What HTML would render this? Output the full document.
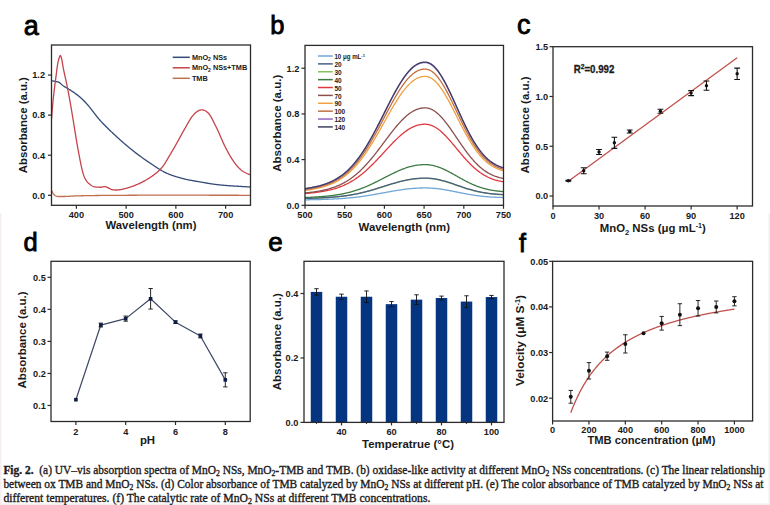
<!DOCTYPE html>
<html><head><meta charset="utf-8"><style>
html,body{margin:0;padding:0;background:#fff;}
body{width:770px;height:505px;overflow:hidden;}
svg{display:block;}
</style></head><body>
<svg width="770" height="505" viewBox="0 0 770 505">
<rect width="770" height="505" fill="#fff"/>
<rect x="0" y="213" width="1.5" height="292" fill="#f6eef0"/>
<rect x="768.5" y="213" width="1.5" height="292" fill="#f3eef0"/>
<rect x="0" y="503.5" width="770" height="1.5" fill="#f4eced"/>
<text x="23.8" y="35.2" font-family="'Liberation Sans', sans-serif" font-size="27" font-weight="normal" text-anchor="start" fill="#000" stroke="#000" stroke-width="0.85">a</text>
<path d="M51.5,190.27 L52,191.33 L52.49,192.39 L52.99,193.28 L53.49,193.97 L53.99,194.57 L54.48,195.06 L54.98,195.46 L55.48,195.78 L55.98,196.03 L56.48,196.22 L56.97,196.35 L57.47,196.44 L57.97,196.5 L58.47,196.52 L58.96,196.53 L59.46,196.52 L59.96,196.5 L60.45,196.48 L60.95,196.47 L61.45,196.48 L61.95,196.5 L62.45,196.51 L62.94,196.52 L63.44,196.52 L63.94,196.51 L64.44,196.51 L64.93,196.5 L65.43,196.48 L65.93,196.46 L66.42,196.44 L66.92,196.42 L67.42,196.39 L67.92,196.36 L68.42,196.33 L68.91,196.3 L69.41,196.27 L69.91,196.24 L70.41,196.21 L70.9,196.17 L71.4,196.14 L71.9,196.11 L72.39,196.07 L72.89,196.04 L73.39,196.01 L73.89,195.99 L74.39,195.96 L74.88,195.94 L75.38,195.92 L75.88,195.9 L76.38,195.88 L76.87,195.87 L77.37,195.86 L77.87,195.84 L78.37,195.83 L78.86,195.82 L79.36,195.81 L79.86,195.8 L80.35,195.79 L80.85,195.77 L81.35,195.76 L81.85,195.75 L82.34,195.74 L82.84,195.73 L83.34,195.72 L83.84,195.71 L84.34,195.7 L84.83,195.69 L85.33,195.68 L85.83,195.67 L86.32,195.66 L86.82,195.65 L87.32,195.64 L87.82,195.64 L88.31,195.63 L88.81,195.62 L89.31,195.61 L89.81,195.6 L90.31,195.6 L90.8,195.59 L91.3,195.58 L91.8,195.57 L92.29,195.57 L92.79,195.56 L93.29,195.55 L93.79,195.54 L94.28,195.54 L94.78,195.53 L95.28,195.52 L95.78,195.52 L96.28,195.51 L96.77,195.51 L97.27,195.5 L97.77,195.49 L98.27,195.49 L98.76,195.48 L99.26,195.48 L99.76,195.47 L100.25,195.47 L100.75,195.46 L101.25,195.46 L101.75,195.45 L102.25,195.45 L102.74,195.44 L103.24,195.44 L103.74,195.43 L104.23,195.43 L104.73,195.42 L105.23,195.42 L105.73,195.42 L106.22,195.41 L106.72,195.41 L107.22,195.4 L107.72,195.4 L108.22,195.4 L108.71,195.39 L109.21,195.39 L109.71,195.38 L110.2,195.38 L110.7,195.38 L111.2,195.37 L111.7,195.37 L112.19,195.37 L112.69,195.36 L113.19,195.36 L113.69,195.36 L114.19,195.35 L114.68,195.35 L115.18,195.35 L115.68,195.34 L116.17,195.34 L116.67,195.34 L117.17,195.33 L117.67,195.33 L118.17,195.33 L118.66,195.33 L119.16,195.32 L119.66,195.32 L120.16,195.32 L120.65,195.31 L121.15,195.31 L121.65,195.31 L122.14,195.3 L122.64,195.3 L123.14,195.3 L123.64,195.3 L124.14,195.29 L124.63,195.29 L125.13,195.29 L125.63,195.28 L126.12,195.28 L126.62,195.28 L127.12,195.28 L127.62,195.27 L128.12,195.27 L128.61,195.27 L129.11,195.26 L129.61,195.26 L130.11,195.26 L130.6,195.26 L131.1,195.25 L131.6,195.25 L132.09,195.25 L132.59,195.25 L133.09,195.24 L133.59,195.24 L134.08,195.24 L134.58,195.24 L135.08,195.23 L135.58,195.23 L136.07,195.23 L136.57,195.23 L137.07,195.23 L137.57,195.22 L138.06,195.22 L138.56,195.22 L139.06,195.22 L139.56,195.22 L140.06,195.21 L140.55,195.21 L141.05,195.21 L141.55,195.21 L142.05,195.21 L142.54,195.21 L143.04,195.2 L143.54,195.2 L144.04,195.2 L144.53,195.2 L145.03,195.2 L145.53,195.2 L146.02,195.2 L146.52,195.2 L147.02,195.19 L147.52,195.19 L148.01,195.19 L148.51,195.19 L149.01,195.19 L149.51,195.19 L150,195.19 L150.5,195.19 L151,195.19 L151.5,195.18 L152,195.18 L152.49,195.18 L152.99,195.18 L153.49,195.18 L153.99,195.18 L154.48,195.18 L154.98,195.18 L155.48,195.18 L155.98,195.18 L156.47,195.18 L156.97,195.18 L157.47,195.18 L157.97,195.17 L158.46,195.17 L158.96,195.17 L159.46,195.17 L159.96,195.17 L160.45,195.17 L160.95,195.17 L161.45,195.17 L161.94,195.17 L162.44,195.17 L162.94,195.17 L163.44,195.17 L163.94,195.17 L164.43,195.17 L164.93,195.17 L165.43,195.17 L165.93,195.17 L166.42,195.17 L166.92,195.17 L167.42,195.17 L167.91,195.17 L168.41,195.17 L168.91,195.17 L169.41,195.17 L169.91,195.17 L170.4,195.17 L170.9,195.17 L171.4,195.17 L171.89,195.17 L172.39,195.17 L172.89,195.17 L173.39,195.17 L173.88,195.17 L174.38,195.17 L174.88,195.17 L175.38,195.17 L175.88,195.17 L176.37,195.17 L176.87,195.17 L177.37,195.17 L177.87,195.17 L178.36,195.18 L178.86,195.18 L179.36,195.18 L179.85,195.18 L180.35,195.18 L180.85,195.18 L181.35,195.18 L181.84,195.18 L182.34,195.18 L182.84,195.18 L183.34,195.18 L183.84,195.18 L184.33,195.18 L184.83,195.18 L185.33,195.18 L185.83,195.18 L186.32,195.18 L186.82,195.19 L187.32,195.19 L187.81,195.19 L188.31,195.19 L188.81,195.19 L189.31,195.19 L189.8,195.19 L190.3,195.19 L190.8,195.19 L191.3,195.19 L191.79,195.19 L192.29,195.19 L192.79,195.19 L193.29,195.2 L193.78,195.2 L194.28,195.2 L194.78,195.2 L195.28,195.2 L195.78,195.2 L196.27,195.2 L196.77,195.2 L197.27,195.2 L197.76,195.2 L198.26,195.2 L198.76,195.21 L199.26,195.21 L199.75,195.21 L200.25,195.21 L200.75,195.21 L201.25,195.21 L201.75,195.21 L202.24,195.21 L202.74,195.21 L203.24,195.21 L203.74,195.21 L204.23,195.22 L204.73,195.22 L205.23,195.22 L205.72,195.22 L206.22,195.22 L206.72,195.22 L207.22,195.22 L207.72,195.22 L208.21,195.22 L208.71,195.22 L209.21,195.23 L209.71,195.23 L210.2,195.23 L210.7,195.23 L211.2,195.23 L211.7,195.23 L212.19,195.23 L212.69,195.23 L213.19,195.23 L213.69,195.23 L214.18,195.24 L214.68,195.24 L215.18,195.24 L215.67,195.24 L216.17,195.24 L216.67,195.24 L217.17,195.24 L217.66,195.24 L218.16,195.24 L218.66,195.24 L219.16,195.25 L219.66,195.25 L220.15,195.25 L220.65,195.25 L221.15,195.25 L221.65,195.25 L222.14,195.25 L222.64,195.25 L223.14,195.25 L223.63,195.25 L224.13,195.25 L224.63,195.26 L225.13,195.26 L225.62,195.26 L226.12,195.26 L226.62,195.26 L227.12,195.26 L227.62,195.26 L228.11,195.26 L228.61,195.26 L229.11,195.26 L229.6,195.26 L230.1,195.26 L230.6,195.27 L231.1,195.27 L231.59,195.27 L232.09,195.27 L232.59,195.27 L233.09,195.27 L233.59,195.27 L234.08,195.27 L234.58,195.27 L235.08,195.27 L235.58,195.27 L236.07,195.27 L236.57,195.27 L237.07,195.27 L237.56,195.27 L238.06,195.27 L238.56,195.27 L239.06,195.28 L239.55,195.28 L240.05,195.28 L240.55,195.28 L241.05,195.28 L241.54,195.28 L242.04,195.28 L242.54,195.28 L243.04,195.28 L243.53,195.28 L244.03,195.28 L244.53,195.28 L245.03,195.28 L245.53,195.28 L246.02,195.28 L246.52,195.28 L247.02,195.28 L247.51,195.28 L248.01,195.28 L248.51,195.28 L249.01,195.28 L249.5,195.28 L250,195.28 L250.5,195.28" fill="none" stroke="#c0704f" stroke-width="1.3" stroke-linejoin="round" />
<path d="M51.5,80.67 L52,80.77 L52.49,80.86 L52.99,80.96 L53.49,81.05 L53.99,81.15 L54.48,81.25 L54.98,81.36 L55.48,81.47 L55.98,81.57 L56.48,81.66 L56.97,81.74 L57.47,81.83 L57.97,81.95 L58.47,82.1 L58.96,82.31 L59.46,82.59 L59.96,82.97 L60.45,83.42 L60.95,83.9 L61.45,84.39 L61.95,84.84 L62.45,85.22 L62.94,85.58 L63.44,85.93 L63.94,86.26 L64.44,86.58 L64.93,86.89 L65.43,87.2 L65.93,87.5 L66.42,87.79 L66.92,88.08 L67.42,88.37 L67.92,88.66 L68.42,88.94 L68.91,89.24 L69.41,89.53 L69.91,89.83 L70.41,90.14 L70.9,90.46 L71.4,90.78 L71.9,91.12 L72.39,91.46 L72.89,91.8 L73.39,92.14 L73.89,92.48 L74.39,92.83 L74.88,93.18 L75.38,93.53 L75.88,93.89 L76.38,94.25 L76.87,94.62 L77.37,95 L77.87,95.38 L78.37,95.77 L78.86,96.18 L79.36,96.59 L79.86,97.01 L80.35,97.45 L80.85,97.89 L81.35,98.34 L81.85,98.8 L82.34,99.27 L82.84,99.75 L83.34,100.23 L83.84,100.73 L84.34,101.24 L84.83,101.75 L85.33,102.27 L85.83,102.8 L86.32,103.34 L86.82,103.89 L87.32,104.45 L87.82,105.02 L88.31,105.6 L88.81,106.19 L89.31,106.8 L89.81,107.41 L90.31,108.04 L90.8,108.66 L91.3,109.3 L91.8,109.94 L92.29,110.58 L92.79,111.23 L93.29,111.88 L93.79,112.53 L94.28,113.18 L94.78,113.82 L95.28,114.47 L95.78,115.11 L96.28,115.75 L96.77,116.38 L97.27,117 L97.77,117.62 L98.27,118.22 L98.76,118.82 L99.26,119.41 L99.76,119.98 L100.25,120.54 L100.75,121.09 L101.25,121.64 L101.75,122.18 L102.25,122.71 L102.74,123.24 L103.24,123.77 L103.74,124.29 L104.23,124.8 L104.73,125.31 L105.23,125.82 L105.73,126.32 L106.22,126.82 L106.72,127.32 L107.22,127.81 L107.72,128.3 L108.22,128.78 L108.71,129.27 L109.21,129.75 L109.71,130.22 L110.2,130.7 L110.7,131.17 L111.2,131.64 L111.7,132.11 L112.19,132.57 L112.69,133.04 L113.19,133.5 L113.69,133.96 L114.19,134.42 L114.68,134.88 L115.18,135.34 L115.68,135.8 L116.17,136.26 L116.67,136.72 L117.17,137.17 L117.67,137.63 L118.17,138.08 L118.66,138.54 L119.16,138.99 L119.66,139.43 L120.16,139.88 L120.65,140.33 L121.15,140.77 L121.65,141.21 L122.14,141.65 L122.64,142.08 L123.14,142.52 L123.64,142.95 L124.14,143.38 L124.63,143.81 L125.13,144.24 L125.63,144.66 L126.12,145.09 L126.62,145.51 L127.12,145.93 L127.62,146.35 L128.12,146.76 L128.61,147.17 L129.11,147.59 L129.61,147.99 L130.11,148.4 L130.6,148.81 L131.1,149.21 L131.6,149.61 L132.09,150.01 L132.59,150.41 L133.09,150.81 L133.59,151.2 L134.08,151.59 L134.58,151.98 L135.08,152.37 L135.58,152.75 L136.07,153.13 L136.57,153.51 L137.07,153.89 L137.57,154.27 L138.06,154.64 L138.56,155.01 L139.06,155.38 L139.56,155.75 L140.06,156.11 L140.55,156.48 L141.05,156.84 L141.55,157.2 L142.05,157.55 L142.54,157.91 L143.04,158.26 L143.54,158.62 L144.04,158.97 L144.53,159.32 L145.03,159.66 L145.53,160.01 L146.02,160.35 L146.52,160.7 L147.02,161.04 L147.52,161.38 L148.01,161.71 L148.51,162.05 L149.01,162.39 L149.51,162.72 L150,163.05 L150.5,163.39 L151,163.72 L151.5,164.06 L152,164.39 L152.49,164.73 L152.99,165.06 L153.49,165.4 L153.99,165.73 L154.48,166.06 L154.98,166.39 L155.48,166.72 L155.98,167.05 L156.47,167.37 L156.97,167.7 L157.47,168.02 L157.97,168.33 L158.46,168.65 L158.96,168.96 L159.46,169.27 L159.96,169.57 L160.45,169.87 L160.95,170.17 L161.45,170.46 L161.94,170.74 L162.44,171.03 L162.94,171.3 L163.44,171.57 L163.94,171.84 L164.43,172.1 L164.93,172.35 L165.43,172.6 L165.93,172.84 L166.42,173.07 L166.92,173.3 L167.42,173.52 L167.91,173.74 L168.41,173.95 L168.91,174.16 L169.41,174.36 L169.91,174.56 L170.4,174.75 L170.9,174.94 L171.4,175.12 L171.89,175.3 L172.39,175.48 L172.89,175.65 L173.39,175.81 L173.88,175.98 L174.38,176.14 L174.88,176.3 L175.38,176.45 L175.88,176.6 L176.37,176.75 L176.87,176.9 L177.37,177.05 L177.87,177.19 L178.36,177.33 L178.86,177.47 L179.36,177.61 L179.85,177.75 L180.35,177.88 L180.85,178.02 L181.35,178.15 L181.84,178.28 L182.34,178.42 L182.84,178.55 L183.34,178.68 L183.84,178.81 L184.33,178.93 L184.83,179.05 L185.33,179.17 L185.83,179.28 L186.32,179.4 L186.82,179.51 L187.32,179.61 L187.81,179.72 L188.31,179.82 L188.81,179.92 L189.31,180.02 L189.8,180.11 L190.3,180.21 L190.8,180.3 L191.3,180.39 L191.79,180.48 L192.29,180.57 L192.79,180.66 L193.29,180.74 L193.78,180.83 L194.28,180.92 L194.78,181 L195.28,181.09 L195.78,181.17 L196.27,181.25 L196.77,181.34 L197.27,181.42 L197.76,181.51 L198.26,181.59 L198.76,181.68 L199.26,181.77 L199.75,181.86 L200.25,181.94 L200.75,182.03 L201.25,182.12 L201.75,182.21 L202.24,182.3 L202.74,182.39 L203.24,182.48 L203.74,182.56 L204.23,182.65 L204.73,182.74 L205.23,182.83 L205.72,182.91 L206.22,183 L206.72,183.09 L207.22,183.17 L207.72,183.25 L208.21,183.34 L208.71,183.42 L209.21,183.5 L209.71,183.58 L210.2,183.66 L210.7,183.74 L211.2,183.81 L211.7,183.89 L212.19,183.96 L212.69,184.04 L213.19,184.11 L213.69,184.18 L214.18,184.25 L214.68,184.31 L215.18,184.38 L215.67,184.44 L216.17,184.5 L216.67,184.56 L217.17,184.62 L217.66,184.68 L218.16,184.73 L218.66,184.78 L219.16,184.84 L219.66,184.89 L220.15,184.94 L220.65,184.99 L221.15,185.04 L221.65,185.08 L222.14,185.13 L222.64,185.18 L223.14,185.22 L223.63,185.27 L224.13,185.31 L224.63,185.35 L225.13,185.39 L225.62,185.43 L226.12,185.47 L226.62,185.51 L227.12,185.55 L227.62,185.59 L228.11,185.62 L228.61,185.66 L229.11,185.7 L229.6,185.73 L230.1,185.77 L230.6,185.8 L231.1,185.83 L231.59,185.87 L232.09,185.9 L232.59,185.93 L233.09,185.96 L233.59,186 L234.08,186.03 L234.58,186.06 L235.08,186.09 L235.58,186.12 L236.07,186.15 L236.57,186.18 L237.07,186.21 L237.56,186.24 L238.06,186.27 L238.56,186.3 L239.06,186.33 L239.55,186.36 L240.05,186.39 L240.55,186.42 L241.05,186.45 L241.54,186.48 L242.04,186.51 L242.54,186.54 L243.04,186.57 L243.53,186.6 L244.03,186.63 L244.53,186.66 L245.03,186.69 L245.53,186.72 L246.02,186.76 L246.52,186.79 L247.02,186.82 L247.51,186.86 L248.01,186.89 L248.51,186.92 L249.01,186.96 L249.5,186.99 L250,187.03 L250.5,187.07" fill="none" stroke="#344a78" stroke-width="1.3" stroke-linejoin="round" />
<path d="M51.5,119.14 L52,112.96 L52.49,106.89 L52.99,101.53 L53.49,96.75 L53.99,92.32 L54.48,88.08 L54.98,84.07 L55.48,80.32 L55.98,76.63 L56.48,72.76 L56.97,68.64 L57.47,65.04 L57.97,62.36 L58.47,60.25 L58.96,58.53 L59.46,57 L59.96,55.86 L60.45,55.52 L60.95,56.32 L61.45,58 L61.95,60.21 L62.45,63.08 L62.94,66.18 L63.44,68.96 L63.94,71.41 L64.44,73.74 L64.93,75.97 L65.43,78.17 L65.93,80.39 L66.42,82.67 L66.92,85.07 L67.42,87.57 L67.92,90.12 L68.42,92.71 L68.91,95.35 L69.41,98.04 L69.91,100.77 L70.41,103.55 L70.9,106.39 L71.4,109.3 L71.9,112.27 L72.39,115.3 L72.89,118.37 L73.39,121.46 L73.89,124.57 L74.39,127.68 L74.88,130.78 L75.38,133.86 L75.88,136.91 L76.38,139.9 L76.87,142.85 L77.37,145.72 L77.87,148.51 L78.37,151.2 L78.86,153.85 L79.36,156.49 L79.86,159.1 L80.35,161.65 L80.85,164.12 L81.35,166.47 L81.85,168.69 L82.34,170.74 L82.84,172.6 L83.34,174.24 L83.84,175.68 L84.34,176.95 L84.83,178.07 L85.33,179.06 L85.83,179.93 L86.32,180.69 L86.82,181.35 L87.32,181.94 L87.82,182.47 L88.31,182.95 L88.81,183.39 L89.31,183.82 L89.81,184.23 L90.31,184.66 L90.8,185.07 L91.3,185.44 L91.8,185.75 L92.29,186.03 L92.79,186.27 L93.29,186.47 L93.79,186.63 L94.28,186.77 L94.78,186.88 L95.28,186.97 L95.78,187.04 L96.28,187.09 L96.77,187.12 L97.27,187.15 L97.77,187.17 L98.27,187.19 L98.76,187.2 L99.26,187.22 L99.76,187.24 L100.25,187.27 L100.75,187.27 L101.25,187.22 L101.75,187.14 L102.25,187.03 L102.74,186.91 L103.24,186.8 L103.74,186.7 L104.23,186.64 L104.73,186.62 L105.23,186.67 L105.73,186.77 L106.22,186.92 L106.72,187.12 L107.22,187.34 L107.72,187.6 L108.22,187.86 L108.71,188.14 L109.21,188.42 L109.71,188.69 L110.2,188.95 L110.7,189.18 L111.2,189.39 L111.7,189.55 L112.19,189.67 L112.69,189.76 L113.19,189.83 L113.69,189.89 L114.19,189.94 L114.68,189.97 L115.18,190 L115.68,190.01 L116.17,190.01 L116.67,190 L117.17,189.98 L117.67,189.95 L118.17,189.92 L118.66,189.87 L119.16,189.81 L119.66,189.75 L120.16,189.68 L120.65,189.59 L121.15,189.51 L121.65,189.41 L122.14,189.31 L122.64,189.2 L123.14,189.09 L123.64,188.97 L124.14,188.85 L124.63,188.72 L125.13,188.59 L125.63,188.46 L126.12,188.32 L126.62,188.18 L127.12,188.04 L127.62,187.9 L128.12,187.75 L128.61,187.6 L129.11,187.44 L129.61,187.28 L130.11,187.12 L130.6,186.96 L131.1,186.79 L131.6,186.62 L132.09,186.44 L132.59,186.27 L133.09,186.08 L133.59,185.9 L134.08,185.71 L134.58,185.52 L135.08,185.32 L135.58,185.12 L136.07,184.92 L136.57,184.71 L137.07,184.5 L137.57,184.28 L138.06,184.06 L138.56,183.84 L139.06,183.61 L139.56,183.38 L140.06,183.14 L140.55,182.9 L141.05,182.66 L141.55,182.41 L142.05,182.16 L142.54,181.9 L143.04,181.64 L143.54,181.38 L144.04,181.11 L144.53,180.84 L145.03,180.56 L145.53,180.28 L146.02,179.99 L146.52,179.7 L147.02,179.4 L147.52,179.1 L148.01,178.79 L148.51,178.48 L149.01,178.17 L149.51,177.85 L150,177.53 L150.5,177.2 L151,176.87 L151.5,176.53 L152,176.2 L152.49,175.85 L152.99,175.5 L153.49,175.14 L153.99,174.78 L154.48,174.41 L154.98,174.02 L155.48,173.63 L155.98,173.23 L156.47,172.82 L156.97,172.4 L157.47,171.97 L157.97,171.52 L158.46,171.06 L158.96,170.59 L159.46,170.1 L159.96,169.6 L160.45,169.08 L160.95,168.54 L161.45,167.99 L161.94,167.42 L162.44,166.83 L162.94,166.23 L163.44,165.59 L163.94,164.9 L164.43,164.17 L164.93,163.4 L165.43,162.6 L165.93,161.78 L166.42,160.94 L166.92,160.09 L167.42,159.22 L167.91,158.36 L168.41,157.5 L168.91,156.65 L169.41,155.81 L169.91,154.98 L170.4,154.14 L170.9,153.3 L171.4,152.46 L171.89,151.61 L172.39,150.77 L172.89,149.91 L173.39,149.06 L173.88,148.2 L174.38,147.34 L174.88,146.47 L175.38,145.6 L175.88,144.73 L176.37,143.86 L176.87,142.98 L177.37,142.11 L177.87,141.22 L178.36,140.32 L178.86,139.42 L179.36,138.51 L179.85,137.59 L180.35,136.67 L180.85,135.75 L181.35,134.83 L181.84,133.92 L182.34,133 L182.84,132.1 L183.34,131.2 L183.84,130.31 L184.33,129.43 L184.83,128.57 L185.33,127.72 L185.83,126.86 L186.32,125.99 L186.82,125.11 L187.32,124.24 L187.81,123.36 L188.31,122.5 L188.81,121.64 L189.31,120.8 L189.8,119.98 L190.3,119.18 L190.8,118.41 L191.3,117.67 L191.79,116.97 L192.29,116.3 L192.79,115.68 L193.29,115.11 L193.78,114.56 L194.28,114.03 L194.78,113.53 L195.28,113.05 L195.78,112.6 L196.27,112.18 L196.77,111.79 L197.27,111.43 L197.76,111.1 L198.26,110.81 L198.76,110.56 L199.26,110.34 L199.75,110.17 L200.25,110.04 L200.75,109.95 L201.25,109.9 L201.75,109.88 L202.24,109.9 L202.74,109.95 L203.24,110.04 L203.74,110.16 L204.23,110.32 L204.73,110.52 L205.23,110.76 L205.72,111.04 L206.22,111.36 L206.72,111.72 L207.22,112.13 L207.72,112.58 L208.21,113.07 L208.71,113.61 L209.21,114.21 L209.71,114.87 L210.2,115.6 L210.7,116.38 L211.2,117.21 L211.7,118.08 L212.19,119 L212.69,119.94 L213.19,120.92 L213.69,121.92 L214.18,122.93 L214.68,123.96 L215.18,124.99 L215.67,126.02 L216.17,127.04 L216.67,128.06 L217.17,129.08 L217.66,130.14 L218.16,131.22 L218.66,132.33 L219.16,133.45 L219.66,134.6 L220.15,135.74 L220.65,136.9 L221.15,138.05 L221.65,139.2 L222.14,140.33 L222.64,141.46 L223.14,142.56 L223.63,143.63 L224.13,144.68 L224.63,145.69 L225.13,146.68 L225.62,147.67 L226.12,148.64 L226.62,149.61 L227.12,150.56 L227.62,151.5 L228.11,152.42 L228.61,153.33 L229.11,154.23 L229.6,155.11 L230.1,155.97 L230.6,156.81 L231.1,157.63 L231.59,158.43 L232.09,159.21 L232.59,159.96 L233.09,160.7 L233.59,161.42 L234.08,162.12 L234.58,162.8 L235.08,163.46 L235.58,164.11 L236.07,164.74 L236.57,165.34 L237.07,165.93 L237.56,166.5 L238.06,167.05 L238.56,167.58 L239.06,168.1 L239.55,168.59 L240.05,169.06 L240.55,169.51 L241.05,169.94 L241.54,170.33 L242.04,170.71 L242.54,171.06 L243.04,171.39 L243.53,171.7 L244.03,171.99 L244.53,172.27 L245.03,172.53 L245.53,172.79 L246.02,173.03 L246.52,173.27 L247.02,173.5 L247.51,173.73 L248.01,173.95 L248.51,174.17 L249.01,174.33 L249.5,174.47 L250,174.6 L250.5,174.74" fill="none" stroke="#c5434a" stroke-width="1.3" stroke-linejoin="round" />
<rect x="51.5" y="45" width="199" height="160.3" fill="none" stroke="#2b2b2b" stroke-width="1.3"/>
<line x1="76.38" y1="205.3" x2="76.38" y2="208.8" stroke="#2b2b2b" stroke-width="1.2"/>
<text x="76.38" y="218.2" font-family="'Liberation Sans', sans-serif" font-size="9.2" font-weight="bold" text-anchor="middle" fill="#1a1a1a" >400</text>
<line x1="126.12" y1="205.3" x2="126.12" y2="208.8" stroke="#2b2b2b" stroke-width="1.2"/>
<text x="126.12" y="218.2" font-family="'Liberation Sans', sans-serif" font-size="9.2" font-weight="bold" text-anchor="middle" fill="#1a1a1a" >500</text>
<line x1="175.88" y1="205.3" x2="175.88" y2="208.8" stroke="#2b2b2b" stroke-width="1.2"/>
<text x="175.88" y="218.2" font-family="'Liberation Sans', sans-serif" font-size="9.2" font-weight="bold" text-anchor="middle" fill="#1a1a1a" >600</text>
<line x1="225.62" y1="205.3" x2="225.62" y2="208.8" stroke="#2b2b2b" stroke-width="1.2"/>
<text x="225.62" y="218.2" font-family="'Liberation Sans', sans-serif" font-size="9.2" font-weight="bold" text-anchor="middle" fill="#1a1a1a" >700</text>
<line x1="48" y1="195.28" x2="51.5" y2="195.28" stroke="#2b2b2b" stroke-width="1.2"/>
<text x="45" y="198.59" font-family="'Liberation Sans', sans-serif" font-size="9.2" font-weight="bold" text-anchor="end" fill="#1a1a1a" >0.0</text>
<line x1="48" y1="155.21" x2="51.5" y2="155.21" stroke="#2b2b2b" stroke-width="1.2"/>
<text x="45" y="158.52" font-family="'Liberation Sans', sans-serif" font-size="9.2" font-weight="bold" text-anchor="end" fill="#1a1a1a" >0.4</text>
<line x1="48" y1="115.13" x2="51.5" y2="115.13" stroke="#2b2b2b" stroke-width="1.2"/>
<text x="45" y="118.44" font-family="'Liberation Sans', sans-serif" font-size="9.2" font-weight="bold" text-anchor="end" fill="#1a1a1a" >0.8</text>
<line x1="48" y1="75.06" x2="51.5" y2="75.06" stroke="#2b2b2b" stroke-width="1.2"/>
<text x="45" y="78.37" font-family="'Liberation Sans', sans-serif" font-size="9.2" font-weight="bold" text-anchor="end" fill="#1a1a1a" >1.2</text>
<text x="151" y="228.8" font-family="'Liberation Sans', sans-serif" font-size="11.4" font-weight="bold" text-anchor="middle" fill="#1a1a1a" textLength="91" lengthAdjust="spacingAndGlyphs" >Wavelength (nm)</text>
<text transform="translate(27,125.2) rotate(-90)" x="0" y="0" font-family="'Liberation Sans', sans-serif" font-size="11.4" font-weight="bold" text-anchor="middle" fill="#1a1a1a" textLength="96" lengthAdjust="spacingAndGlyphs">Absorbance (a.u.)</text>
<line x1="172.7" y1="57.3" x2="189.8" y2="57.3" stroke="#344a78" stroke-width="1.5"/>
<text x="191.9" y="59.9" font-family="'Liberation Sans', sans-serif" font-size="7.3" font-weight="bold" text-anchor="start" fill="#1a1a1a" >MnO<tspan font-size="5" dy="1.5">2</tspan><tspan dy="-1.5"> NSs</tspan></text>
<line x1="172.7" y1="67.8" x2="189.8" y2="67.8" stroke="#c5434a" stroke-width="1.5"/>
<text x="191.9" y="70.4" font-family="'Liberation Sans', sans-serif" font-size="7.3" font-weight="bold" text-anchor="start" fill="#1a1a1a" >MnO<tspan font-size="5" dy="1.5">2</tspan><tspan dy="-1.5"> NSs+TMB</tspan></text>
<line x1="172.7" y1="78.3" x2="189.8" y2="78.3" stroke="#c0704f" stroke-width="1.5"/>
<text x="191.9" y="80.9" font-family="'Liberation Sans', sans-serif" font-size="7.3" font-weight="bold" text-anchor="start" fill="#1a1a1a" >TMB</text>
<text x="270.3" y="34.3" font-family="'Liberation Sans', sans-serif" font-size="25.5" font-weight="normal" text-anchor="start" fill="#000" stroke="#000" stroke-width="0.85">b</text>
<path d="M305,199.82 L305.79,199.81 L306.59,199.79 L307.38,199.78 L308.18,199.77 L308.97,199.75 L309.76,199.74 L310.56,199.72 L311.35,199.71 L312.15,199.69 L312.94,199.68 L313.73,199.66 L314.53,199.64 L315.32,199.63 L316.12,199.61 L316.91,199.59 L317.7,199.57 L318.5,199.55 L319.29,199.53 L320.09,199.51 L320.88,199.49 L321.67,199.47 L322.47,199.44 L323.26,199.42 L324.06,199.39 L324.85,199.37 L325.64,199.34 L326.44,199.31 L327.23,199.28 L328.03,199.25 L328.82,199.22 L329.61,199.19 L330.41,199.16 L331.2,199.12 L332,199.09 L332.79,199.05 L333.58,199.01 L334.38,198.97 L335.17,198.93 L335.97,198.89 L336.76,198.84 L337.55,198.8 L338.35,198.75 L339.14,198.7 L339.94,198.65 L340.73,198.6 L341.52,198.54 L342.32,198.49 L343.11,198.43 L343.91,198.37 L344.7,198.31 L345.49,198.24 L346.29,198.18 L347.08,198.11 L347.88,198.04 L348.67,197.97 L349.46,197.9 L350.26,197.82 L351.05,197.74 L351.85,197.66 L352.64,197.58 L353.43,197.5 L354.23,197.41 L355.02,197.32 L355.82,197.23 L356.61,197.14 L357.4,197.04 L358.2,196.94 L358.99,196.84 L359.79,196.74 L360.58,196.63 L361.37,196.53 L362.17,196.42 L362.96,196.31 L363.76,196.19 L364.55,196.08 L365.34,195.96 L366.14,195.84 L366.93,195.72 L367.73,195.6 L368.52,195.47 L369.31,195.34 L370.11,195.21 L370.9,195.08 L371.7,194.95 L372.49,194.82 L373.28,194.68 L374.08,194.54 L374.87,194.4 L375.67,194.26 L376.46,194.12 L377.25,193.98 L378.05,193.84 L378.84,193.69 L379.64,193.55 L380.43,193.4 L381.22,193.26 L382.02,193.11 L382.81,192.96 L383.61,192.82 L384.4,192.67 L385.19,192.52 L385.99,192.38 L386.78,192.23 L387.58,192.08 L388.37,191.94 L389.16,191.79 L389.96,191.65 L390.75,191.5 L391.55,191.36 L392.34,191.22 L393.13,191.08 L393.93,190.94 L394.72,190.81 L395.52,190.67 L396.31,190.54 L397.1,190.41 L397.9,190.28 L398.69,190.16 L399.49,190.03 L400.28,189.91 L401.07,189.79 L401.87,189.68 L402.66,189.57 L403.46,189.46 L404.25,189.35 L405.04,189.25 L405.84,189.15 L406.63,189.05 L407.43,188.96 L408.22,188.87 L409.01,188.79 L409.81,188.7 L410.6,188.63 L411.4,188.55 L412.19,188.49 L412.98,188.42 L413.78,188.36 L414.57,188.3 L415.37,188.25 L416.16,188.2 L416.95,188.16 L417.75,188.12 L418.54,188.08 L419.34,188.05 L420.13,188.02 L420.92,188 L421.72,187.98 L422.51,187.96 L423.31,187.95 L424.1,187.94 L424.89,187.94 L425.69,187.94 L426.48,187.95 L427.28,187.96 L428.07,187.98 L428.86,188.01 L429.66,188.04 L430.45,188.08 L431.25,188.12 L432.04,188.17 L432.83,188.23 L433.63,188.29 L434.42,188.36 L435.22,188.43 L436.01,188.51 L436.8,188.6 L437.6,188.69 L438.39,188.78 L439.19,188.88 L439.98,188.99 L440.77,189.1 L441.57,189.22 L442.36,189.34 L443.16,189.46 L443.95,189.59 L444.74,189.72 L445.54,189.86 L446.33,190 L447.13,190.14 L447.92,190.29 L448.71,190.43 L449.51,190.58 L450.3,190.74 L451.1,190.89 L451.89,191.05 L452.68,191.2 L453.48,191.36 L454.27,191.52 L455.07,191.68 L455.86,191.84 L456.65,192 L457.45,192.17 L458.24,192.33 L459.04,192.49 L459.83,192.65 L460.62,192.8 L461.42,192.96 L462.21,193.12 L463.01,193.27 L463.8,193.43 L464.59,193.58 L465.39,193.73 L466.18,193.87 L466.98,194.02 L467.77,194.16 L468.56,194.3 L469.36,194.44 L470.15,194.57 L470.95,194.71 L471.74,194.84 L472.53,194.96 L473.33,195.09 L474.12,195.21 L474.92,195.32 L475.71,195.44 L476.5,195.55 L477.3,195.65 L478.09,195.76 L478.89,195.86 L479.68,195.96 L480.47,196.05 L481.27,196.14 L482.06,196.23 L482.86,196.31 L483.65,196.39 L484.44,196.47 L485.24,196.55 L486.03,196.62 L486.83,196.69 L487.62,196.75 L488.41,196.82 L489.21,196.88 L490,196.93 L490.8,196.99 L491.59,197.04 L492.38,197.09 L493.18,197.13 L493.97,197.18 L494.77,197.22 L495.56,197.26 L496.35,197.29 L497.15,197.33 L497.94,197.36 L498.74,197.39 L499.53,197.42 L500.32,197.45 L501.12,197.47 L501.91,197.49 L502.71,197.51 L503.5,197.53" fill="none" stroke="#6fa6d6" stroke-width="1.3" stroke-linejoin="round" />
<path d="M305,198.45 L305.79,198.43 L306.59,198.41 L307.38,198.38 L308.18,198.36 L308.97,198.34 L309.76,198.32 L310.56,198.29 L311.35,198.27 L312.15,198.24 L312.94,198.22 L313.73,198.19 L314.53,198.16 L315.32,198.14 L316.12,198.11 L316.91,198.07 L317.7,198.04 L318.5,198.01 L319.29,197.98 L320.09,197.94 L320.88,197.91 L321.67,197.87 L322.47,197.83 L323.26,197.79 L324.06,197.75 L324.85,197.7 L325.64,197.66 L326.44,197.61 L327.23,197.56 L328.03,197.51 L328.82,197.46 L329.61,197.41 L330.41,197.35 L331.2,197.29 L332,197.23 L332.79,197.17 L333.58,197.1 L334.38,197.04 L335.17,196.97 L335.97,196.9 L336.76,196.82 L337.55,196.74 L338.35,196.66 L339.14,196.58 L339.94,196.5 L340.73,196.41 L341.52,196.32 L342.32,196.22 L343.11,196.12 L343.91,196.02 L344.7,195.92 L345.49,195.81 L346.29,195.7 L347.08,195.59 L347.88,195.47 L348.67,195.35 L349.46,195.23 L350.26,195.1 L351.05,194.96 L351.85,194.83 L352.64,194.69 L353.43,194.55 L354.23,194.4 L355.02,194.25 L355.82,194.1 L356.61,193.94 L357.4,193.77 L358.2,193.61 L358.99,193.44 L359.79,193.27 L360.58,193.09 L361.37,192.91 L362.17,192.72 L362.96,192.53 L363.76,192.34 L364.55,192.15 L365.34,191.95 L366.14,191.74 L366.93,191.54 L367.73,191.33 L368.52,191.11 L369.31,190.9 L370.11,190.68 L370.9,190.46 L371.7,190.23 L372.49,190 L373.28,189.77 L374.08,189.54 L374.87,189.3 L375.67,189.07 L376.46,188.83 L377.25,188.59 L378.05,188.34 L378.84,188.1 L379.64,187.85 L380.43,187.61 L381.22,187.36 L382.02,187.11 L382.81,186.86 L383.61,186.61 L384.4,186.36 L385.19,186.11 L385.99,185.86 L386.78,185.61 L387.58,185.36 L388.37,185.11 L389.16,184.87 L389.96,184.62 L390.75,184.38 L391.55,184.14 L392.34,183.9 L393.13,183.66 L393.93,183.43 L394.72,183.2 L395.52,182.97 L396.31,182.74 L397.1,182.52 L397.9,182.3 L398.69,182.09 L399.49,181.88 L400.28,181.68 L401.07,181.48 L401.87,181.28 L402.66,181.09 L403.46,180.9 L404.25,180.72 L405.04,180.55 L405.84,180.38 L406.63,180.22 L407.43,180.06 L408.22,179.91 L409.01,179.77 L409.81,179.63 L410.6,179.5 L411.4,179.38 L412.19,179.26 L412.98,179.15 L413.78,179.05 L414.57,178.95 L415.37,178.86 L416.16,178.78 L416.95,178.71 L417.75,178.64 L418.54,178.58 L419.34,178.53 L420.13,178.48 L420.92,178.44 L421.72,178.41 L422.51,178.38 L423.31,178.36 L424.1,178.35 L424.89,178.35 L425.69,178.35 L426.48,178.36 L427.28,178.39 L428.07,178.42 L428.86,178.47 L429.66,178.52 L430.45,178.59 L431.25,178.66 L432.04,178.75 L432.83,178.84 L433.63,178.95 L434.42,179.07 L435.22,179.2 L436.01,179.33 L436.8,179.48 L437.6,179.64 L438.39,179.8 L439.19,179.97 L439.98,180.16 L440.77,180.35 L441.57,180.55 L442.36,180.75 L443.16,180.96 L443.95,181.18 L444.74,181.41 L445.54,181.64 L446.33,181.88 L447.13,182.13 L447.92,182.37 L448.71,182.63 L449.51,182.88 L450.3,183.14 L451.1,183.41 L451.89,183.68 L452.68,183.94 L453.48,184.22 L454.27,184.49 L455.07,184.76 L455.86,185.04 L456.65,185.31 L457.45,185.59 L458.24,185.86 L459.04,186.14 L459.83,186.41 L460.62,186.68 L461.42,186.95 L462.21,187.22 L463.01,187.48 L463.8,187.74 L464.59,188 L465.39,188.26 L466.18,188.51 L466.98,188.76 L467.77,189 L468.56,189.24 L469.36,189.48 L470.15,189.71 L470.95,189.93 L471.74,190.16 L472.53,190.37 L473.33,190.58 L474.12,190.79 L474.92,190.99 L475.71,191.18 L476.5,191.37 L477.3,191.56 L478.09,191.74 L478.89,191.91 L479.68,192.08 L480.47,192.24 L481.27,192.39 L482.06,192.54 L482.86,192.69 L483.65,192.83 L484.44,192.96 L485.24,193.09 L486.03,193.21 L486.83,193.33 L487.62,193.44 L488.41,193.55 L489.21,193.65 L490,193.75 L490.8,193.84 L491.59,193.93 L492.38,194.02 L493.18,194.1 L493.97,194.17 L494.77,194.24 L495.56,194.31 L496.35,194.38 L497.15,194.44 L497.94,194.49 L498.74,194.54 L499.53,194.59 L500.32,194.64 L501.12,194.68 L501.91,194.72 L502.71,194.76 L503.5,194.79" fill="none" stroke="#86c35a" stroke-width="1.3" stroke-linejoin="round" />
<path d="M305,198.45 L305.79,198.43 L306.59,198.4 L307.38,198.38 L308.18,198.36 L308.97,198.34 L309.76,198.31 L310.56,198.29 L311.35,198.26 L312.15,198.24 L312.94,198.21 L313.73,198.18 L314.53,198.15 L315.32,198.12 L316.12,198.09 L316.91,198.06 L317.7,198.03 L318.5,197.99 L319.29,197.96 L320.09,197.92 L320.88,197.89 L321.67,197.85 L322.47,197.81 L323.26,197.77 L324.06,197.72 L324.85,197.68 L325.64,197.63 L326.44,197.58 L327.23,197.53 L328.03,197.48 L328.82,197.43 L329.61,197.38 L330.41,197.32 L331.2,197.26 L332,197.2 L332.79,197.13 L333.58,197.07 L334.38,197 L335.17,196.93 L335.97,196.86 L336.76,196.78 L337.55,196.7 L338.35,196.62 L339.14,196.54 L339.94,196.45 L340.73,196.36 L341.52,196.27 L342.32,196.17 L343.11,196.07 L343.91,195.97 L344.7,195.87 L345.49,195.76 L346.29,195.64 L347.08,195.53 L347.88,195.41 L348.67,195.29 L349.46,195.16 L350.26,195.03 L351.05,194.9 L351.85,194.76 L352.64,194.62 L353.43,194.48 L354.23,194.33 L355.02,194.18 L355.82,194.02 L356.61,193.86 L357.4,193.7 L358.2,193.53 L358.99,193.36 L359.79,193.18 L360.58,193 L361.37,192.82 L362.17,192.63 L362.96,192.44 L363.76,192.25 L364.55,192.05 L365.34,191.85 L366.14,191.64 L366.93,191.44 L367.73,191.22 L368.52,191.01 L369.31,190.79 L370.11,190.57 L370.9,190.35 L371.7,190.12 L372.49,189.89 L373.28,189.66 L374.08,189.42 L374.87,189.18 L375.67,188.94 L376.46,188.7 L377.25,188.46 L378.05,188.21 L378.84,187.97 L379.64,187.72 L380.43,187.47 L381.22,187.22 L382.02,186.97 L382.81,186.72 L383.61,186.47 L384.4,186.21 L385.19,185.96 L385.99,185.71 L386.78,185.46 L387.58,185.21 L388.37,184.96 L389.16,184.71 L389.96,184.46 L390.75,184.22 L391.55,183.97 L392.34,183.73 L393.13,183.49 L393.93,183.26 L394.72,183.02 L395.52,182.79 L396.31,182.57 L397.1,182.34 L397.9,182.12 L398.69,181.91 L399.49,181.7 L400.28,181.49 L401.07,181.29 L401.87,181.09 L402.66,180.9 L403.46,180.71 L404.25,180.53 L405.04,180.35 L405.84,180.18 L406.63,180.02 L407.43,179.86 L408.22,179.71 L409.01,179.56 L409.81,179.43 L410.6,179.29 L411.4,179.17 L412.19,179.05 L412.98,178.94 L413.78,178.83 L414.57,178.74 L415.37,178.65 L416.16,178.56 L416.95,178.49 L417.75,178.42 L418.54,178.36 L419.34,178.3 L420.13,178.26 L420.92,178.22 L421.72,178.18 L422.51,178.16 L423.31,178.14 L424.1,178.12 L424.89,178.12 L425.69,178.12 L426.48,178.13 L427.28,178.16 L428.07,178.19 L428.86,178.23 L429.66,178.29 L430.45,178.35 L431.25,178.43 L432.04,178.51 L432.83,178.61 L433.63,178.72 L434.42,178.83 L435.22,178.96 L436.01,179.1 L436.8,179.24 L437.6,179.4 L438.39,179.56 L439.19,179.74 L439.98,179.92 L440.77,180.11 L441.57,180.31 L442.36,180.52 L443.16,180.73 L443.95,180.95 L444.74,181.18 L445.54,181.41 L446.33,181.65 L447.13,181.89 L447.92,182.14 L448.71,182.39 L449.51,182.65 L450.3,182.91 L451.1,183.18 L451.89,183.45 L452.68,183.72 L453.48,183.99 L454.27,184.26 L455.07,184.53 L455.86,184.81 L456.65,185.09 L457.45,185.36 L458.24,185.64 L459.04,185.91 L459.83,186.18 L460.62,186.46 L461.42,186.73 L462.21,186.99 L463.01,187.26 L463.8,187.52 L464.59,187.78 L465.39,188.04 L466.18,188.29 L466.98,188.54 L467.77,188.78 L468.56,189.02 L469.36,189.26 L470.15,189.49 L470.95,189.72 L471.74,189.94 L472.53,190.15 L473.33,190.37 L474.12,190.57 L474.92,190.77 L475.71,190.97 L476.5,191.16 L477.3,191.34 L478.09,191.52 L478.89,191.69 L479.68,191.86 L480.47,192.02 L481.27,192.18 L482.06,192.33 L482.86,192.47 L483.65,192.61 L484.44,192.74 L485.24,192.87 L486.03,192.99 L486.83,193.11 L487.62,193.22 L488.41,193.33 L489.21,193.43 L490,193.53 L490.8,193.63 L491.59,193.71 L492.38,193.8 L493.18,193.88 L493.97,193.95 L494.77,194.02 L495.56,194.09 L496.35,194.15 L497.15,194.21 L497.94,194.27 L498.74,194.32 L499.53,194.37 L500.32,194.41 L501.12,194.46 L501.91,194.49 L502.71,194.53 L503.5,194.56" fill="none" stroke="#4c5e86" stroke-width="1.3" stroke-linejoin="round" />
<path d="M305,197.53 L305.79,197.5 L306.59,197.47 L307.38,197.43 L308.18,197.4 L308.97,197.36 L309.76,197.32 L310.56,197.28 L311.35,197.24 L312.15,197.2 L312.94,197.16 L313.73,197.12 L314.53,197.07 L315.32,197.02 L316.12,196.98 L316.91,196.93 L317.7,196.87 L318.5,196.82 L319.29,196.77 L320.09,196.71 L320.88,196.65 L321.67,196.59 L322.47,196.52 L323.26,196.46 L324.06,196.39 L324.85,196.32 L325.64,196.25 L326.44,196.17 L327.23,196.09 L328.03,196.01 L328.82,195.92 L329.61,195.83 L330.41,195.74 L331.2,195.65 L332,195.55 L332.79,195.45 L333.58,195.34 L334.38,195.23 L335.17,195.12 L335.97,195 L336.76,194.88 L337.55,194.75 L338.35,194.62 L339.14,194.49 L339.94,194.35 L340.73,194.2 L341.52,194.05 L342.32,193.9 L343.11,193.74 L343.91,193.57 L344.7,193.4 L345.49,193.23 L346.29,193.05 L347.08,192.86 L347.88,192.67 L348.67,192.47 L349.46,192.27 L350.26,192.06 L351.05,191.84 L351.85,191.62 L352.64,191.39 L353.43,191.16 L354.23,190.92 L355.02,190.67 L355.82,190.42 L356.61,190.16 L357.4,189.89 L358.2,189.62 L358.99,189.34 L359.79,189.06 L360.58,188.77 L361.37,188.47 L362.17,188.17 L362.96,187.86 L363.76,187.55 L364.55,187.23 L365.34,186.9 L366.14,186.57 L366.93,186.23 L367.73,185.89 L368.52,185.54 L369.31,185.18 L370.11,184.83 L370.9,184.46 L371.7,184.09 L372.49,183.72 L373.28,183.34 L374.08,182.96 L374.87,182.58 L375.67,182.19 L376.46,181.8 L377.25,181.4 L378.05,181 L378.84,180.6 L379.64,180.2 L380.43,179.79 L381.22,179.39 L382.02,178.98 L382.81,178.57 L383.61,178.16 L384.4,177.75 L385.19,177.35 L385.99,176.94 L386.78,176.53 L387.58,176.12 L388.37,175.72 L389.16,175.31 L389.96,174.91 L390.75,174.51 L391.55,174.12 L392.34,173.73 L393.13,173.34 L393.93,172.96 L394.72,172.58 L395.52,172.2 L396.31,171.84 L397.1,171.47 L397.9,171.12 L398.69,170.77 L399.49,170.42 L400.28,170.09 L401.07,169.76 L401.87,169.44 L402.66,169.13 L403.46,168.83 L404.25,168.53 L405.04,168.25 L405.84,167.97 L406.63,167.7 L407.43,167.45 L408.22,167.2 L409.01,166.97 L409.81,166.74 L410.6,166.53 L411.4,166.33 L412.19,166.14 L412.98,165.96 L413.78,165.79 L414.57,165.63 L415.37,165.48 L416.16,165.35 L416.95,165.23 L417.75,165.12 L418.54,165.02 L419.34,164.93 L420.13,164.86 L420.92,164.8 L421.72,164.74 L422.51,164.7 L423.31,164.67 L424.1,164.65 L424.89,164.64 L425.69,164.65 L426.48,164.67 L427.28,164.71 L428.07,164.76 L428.86,164.84 L429.66,164.93 L430.45,165.03 L431.25,165.16 L432.04,165.3 L432.83,165.46 L433.63,165.64 L434.42,165.83 L435.22,166.04 L436.01,166.26 L436.8,166.5 L437.6,166.76 L438.39,167.03 L439.19,167.31 L439.98,167.61 L440.77,167.92 L441.57,168.25 L442.36,168.58 L443.16,168.93 L443.95,169.29 L444.74,169.66 L445.54,170.05 L446.33,170.44 L447.13,170.84 L447.92,171.24 L448.71,171.66 L449.51,172.08 L450.3,172.51 L451.1,172.94 L451.89,173.38 L452.68,173.82 L453.48,174.26 L454.27,174.71 L455.07,175.16 L455.86,175.61 L456.65,176.06 L457.45,176.51 L458.24,176.96 L459.04,177.41 L459.83,177.85 L460.62,178.3 L461.42,178.74 L462.21,179.18 L463.01,179.61 L463.8,180.04 L464.59,180.46 L465.39,180.88 L466.18,181.3 L466.98,181.7 L467.77,182.1 L468.56,182.5 L469.36,182.88 L470.15,183.26 L470.95,183.63 L471.74,183.99 L472.53,184.35 L473.33,184.69 L474.12,185.03 L474.92,185.36 L475.71,185.68 L476.5,185.99 L477.3,186.29 L478.09,186.58 L478.89,186.86 L479.68,187.14 L480.47,187.4 L481.27,187.66 L482.06,187.9 L482.86,188.14 L483.65,188.37 L484.44,188.59 L485.24,188.8 L486.03,189 L486.83,189.2 L487.62,189.38 L488.41,189.56 L489.21,189.73 L490,189.89 L490.8,190.04 L491.59,190.19 L492.38,190.32 L493.18,190.45 L493.97,190.58 L494.77,190.7 L495.56,190.81 L496.35,190.91 L497.15,191.01 L497.94,191.1 L498.74,191.19 L499.53,191.27 L500.32,191.34 L501.12,191.41 L501.91,191.48 L502.71,191.54 L503.5,191.59" fill="none" stroke="#3e7b43" stroke-width="1.3" stroke-linejoin="round" />
<path d="M305,193.54 L305.79,193.47 L306.59,193.4 L307.38,193.33 L308.18,193.26 L308.97,193.18 L309.76,193.11 L310.56,193.03 L311.35,192.95 L312.15,192.86 L312.94,192.78 L313.73,192.69 L314.53,192.6 L315.32,192.5 L316.12,192.4 L316.91,192.3 L317.7,192.19 L318.5,192.08 L319.29,191.97 L320.09,191.85 L320.88,191.73 L321.67,191.6 L322.47,191.47 L323.26,191.33 L324.06,191.19 L324.85,191.04 L325.64,190.89 L326.44,190.73 L327.23,190.57 L328.03,190.4 L328.82,190.22 L329.61,190.03 L330.41,189.84 L331.2,189.64 L332,189.44 L332.79,189.23 L333.58,189 L334.38,188.77 L335.17,188.54 L335.97,188.29 L336.76,188.04 L337.55,187.77 L338.35,187.5 L339.14,187.21 L339.94,186.92 L340.73,186.62 L341.52,186.3 L342.32,185.98 L343.11,185.64 L343.91,185.3 L344.7,184.94 L345.49,184.57 L346.29,184.19 L347.08,183.79 L347.88,183.39 L348.67,182.97 L349.46,182.54 L350.26,182.1 L351.05,181.65 L351.85,181.18 L352.64,180.7 L353.43,180.2 L354.23,179.7 L355.02,179.18 L355.82,178.65 L356.61,178.1 L357.4,177.54 L358.2,176.97 L358.99,176.38 L359.79,175.78 L360.58,175.17 L361.37,174.54 L362.17,173.9 L362.96,173.25 L363.76,172.58 L364.55,171.91 L365.34,171.22 L366.14,170.52 L366.93,169.8 L367.73,169.08 L368.52,168.34 L369.31,167.59 L370.11,166.83 L370.9,166.06 L371.7,165.28 L372.49,164.5 L373.28,163.7 L374.08,162.89 L374.87,162.08 L375.67,161.26 L376.46,160.43 L377.25,159.59 L378.05,158.75 L378.84,157.9 L379.64,157.05 L380.43,156.2 L381.22,155.34 L382.02,154.47 L382.81,153.61 L383.61,152.75 L384.4,151.88 L385.19,151.01 L385.99,150.15 L386.78,149.29 L387.58,148.43 L388.37,147.57 L389.16,146.72 L389.96,145.87 L390.75,145.03 L391.55,144.19 L392.34,143.36 L393.13,142.54 L393.93,141.73 L394.72,140.93 L395.52,140.14 L396.31,139.36 L397.1,138.6 L397.9,137.85 L398.69,137.11 L399.49,136.38 L400.28,135.67 L401.07,134.98 L401.87,134.3 L402.66,133.64 L403.46,133 L404.25,132.38 L405.04,131.78 L405.84,131.2 L406.63,130.64 L407.43,130.1 L408.22,129.58 L409.01,129.08 L409.81,128.61 L410.6,128.16 L411.4,127.73 L412.19,127.33 L412.98,126.95 L413.78,126.6 L414.57,126.27 L415.37,125.96 L416.16,125.68 L416.95,125.43 L417.75,125.2 L418.54,124.99 L419.34,124.81 L420.13,124.65 L420.92,124.52 L421.72,124.41 L422.51,124.33 L423.31,124.27 L424.1,124.22 L424.89,124.21 L425.69,124.23 L426.48,124.28 L427.28,124.36 L428.07,124.49 L428.86,124.64 L429.66,124.84 L430.45,125.07 L431.25,125.34 L432.04,125.64 L432.83,125.98 L433.63,126.36 L434.42,126.77 L435.22,127.22 L436.01,127.7 L436.8,128.21 L437.6,128.75 L438.39,129.33 L439.19,129.94 L439.98,130.58 L440.77,131.24 L441.57,131.94 L442.36,132.66 L443.16,133.4 L443.95,134.17 L444.74,134.96 L445.54,135.77 L446.33,136.61 L447.13,137.46 L447.92,138.33 L448.71,139.21 L449.51,140.11 L450.3,141.02 L451.1,141.94 L451.89,142.87 L452.68,143.81 L453.48,144.76 L454.27,145.71 L455.07,146.67 L455.86,147.62 L456.65,148.58 L457.45,149.54 L458.24,150.5 L459.04,151.46 L459.83,152.41 L460.62,153.36 L461.42,154.3 L462.21,155.23 L463.01,156.15 L463.8,157.07 L464.59,157.97 L465.39,158.87 L466.18,159.75 L466.98,160.61 L467.77,161.47 L468.56,162.31 L469.36,163.13 L470.15,163.94 L470.95,164.73 L471.74,165.5 L472.53,166.25 L473.33,166.99 L474.12,167.71 L474.92,168.41 L475.71,169.09 L476.5,169.75 L477.3,170.4 L478.09,171.02 L478.89,171.63 L479.68,172.21 L480.47,172.78 L481.27,173.32 L482.06,173.85 L482.86,174.35 L483.65,174.84 L484.44,175.31 L485.24,175.76 L486.03,176.19 L486.83,176.61 L487.62,177 L488.41,177.38 L489.21,177.74 L490,178.09 L490.8,178.42 L491.59,178.73 L492.38,179.03 L493.18,179.31 L493.97,179.57 L494.77,179.83 L495.56,180.06 L496.35,180.29 L497.15,180.5 L497.94,180.7 L498.74,180.88 L499.53,181.06 L500.32,181.22 L501.12,181.38 L501.91,181.52 L502.71,181.65 L503.5,181.77" fill="none" stroke="#e0393e" stroke-width="1.3" stroke-linejoin="round" />
<path d="M305,192.96 L305.79,192.88 L306.59,192.8 L307.38,192.71 L308.18,192.62 L308.97,192.53 L309.76,192.44 L310.56,192.34 L311.35,192.24 L312.15,192.14 L312.94,192.03 L313.73,191.92 L314.53,191.81 L315.32,191.69 L316.12,191.57 L316.91,191.44 L317.7,191.31 L318.5,191.18 L319.29,191.04 L320.09,190.89 L320.88,190.74 L321.67,190.58 L322.47,190.42 L323.26,190.25 L324.06,190.08 L324.85,189.9 L325.64,189.71 L326.44,189.52 L327.23,189.31 L328.03,189.1 L328.82,188.89 L329.61,188.66 L330.41,188.42 L331.2,188.18 L332,187.93 L332.79,187.67 L333.58,187.4 L334.38,187.11 L335.17,186.82 L335.97,186.52 L336.76,186.21 L337.55,185.88 L338.35,185.54 L339.14,185.2 L339.94,184.84 L340.73,184.46 L341.52,184.08 L342.32,183.68 L343.11,183.27 L343.91,182.84 L344.7,182.4 L345.49,181.95 L346.29,181.48 L347.08,181 L347.88,180.5 L348.67,179.99 L349.46,179.46 L350.26,178.92 L351.05,178.36 L351.85,177.79 L352.64,177.2 L353.43,176.59 L354.23,175.97 L355.02,175.33 L355.82,174.68 L356.61,174.01 L357.4,173.32 L358.2,172.62 L358.99,171.9 L359.79,171.16 L360.58,170.41 L361.37,169.64 L362.17,168.86 L362.96,168.06 L363.76,167.24 L364.55,166.41 L365.34,165.56 L366.14,164.7 L366.93,163.83 L367.73,162.94 L368.52,162.03 L369.31,161.11 L370.11,160.18 L370.9,159.24 L371.7,158.28 L372.49,157.32 L373.28,156.34 L374.08,155.35 L374.87,154.35 L375.67,153.34 L376.46,152.32 L377.25,151.3 L378.05,150.26 L378.84,149.23 L379.64,148.18 L380.43,147.13 L381.22,146.08 L382.02,145.02 L382.81,143.96 L383.61,142.9 L384.4,141.84 L385.19,140.77 L385.99,139.71 L386.78,138.65 L387.58,137.6 L388.37,136.55 L389.16,135.5 L389.96,134.46 L390.75,133.43 L391.55,132.4 L392.34,131.39 L393.13,130.38 L393.93,129.39 L394.72,128.4 L395.52,127.43 L396.31,126.48 L397.1,125.54 L397.9,124.61 L398.69,123.71 L399.49,122.82 L400.28,121.95 L401.07,121.1 L401.87,120.27 L402.66,119.46 L403.46,118.67 L404.25,117.91 L405.04,117.17 L405.84,116.46 L406.63,115.77 L407.43,115.11 L408.22,114.47 L409.01,113.86 L409.81,113.28 L410.6,112.73 L411.4,112.2 L412.19,111.71 L412.98,111.24 L413.78,110.81 L414.57,110.4 L415.37,110.03 L416.16,109.69 L416.95,109.37 L417.75,109.09 L418.54,108.84 L419.34,108.61 L420.13,108.42 L420.92,108.26 L421.72,108.13 L422.51,108.02 L423.31,107.95 L424.1,107.89 L424.89,107.88 L425.69,107.9 L426.48,107.96 L427.28,108.06 L428.07,108.21 L428.86,108.41 L429.66,108.65 L430.45,108.93 L431.25,109.26 L432.04,109.63 L432.83,110.05 L433.63,110.51 L434.42,111.01 L435.22,111.56 L436.01,112.15 L436.8,112.78 L437.6,113.45 L438.39,114.15 L439.19,114.9 L439.98,115.68 L440.77,116.5 L441.57,117.35 L442.36,118.23 L443.16,119.15 L443.95,120.09 L444.74,121.06 L445.54,122.06 L446.33,123.08 L447.13,124.12 L447.92,125.18 L448.71,126.27 L449.51,127.37 L450.3,128.49 L451.1,129.62 L451.89,130.76 L452.68,131.91 L453.48,133.07 L454.27,134.24 L455.07,135.41 L455.86,136.59 L456.65,137.77 L457.45,138.94 L458.24,140.12 L459.04,141.29 L459.83,142.46 L460.62,143.62 L461.42,144.77 L462.21,145.92 L463.01,147.05 L463.8,148.17 L464.59,149.28 L465.39,150.38 L466.18,151.46 L466.98,152.52 L467.77,153.57 L468.56,154.59 L469.36,155.6 L470.15,156.59 L470.95,157.56 L471.74,158.51 L472.53,159.44 L473.33,160.34 L474.12,161.22 L474.92,162.08 L475.71,162.92 L476.5,163.73 L477.3,164.52 L478.09,165.28 L478.89,166.02 L479.68,166.74 L480.47,167.43 L481.27,168.1 L482.06,168.75 L482.86,169.37 L483.65,169.97 L484.44,170.54 L485.24,171.09 L486.03,171.62 L486.83,172.13 L487.62,172.62 L488.41,173.08 L489.21,173.52 L490,173.95 L490.8,174.35 L491.59,174.73 L492.38,175.1 L493.18,175.44 L493.97,175.77 L494.77,176.08 L495.56,176.37 L496.35,176.64 L497.15,176.9 L497.94,177.14 L498.74,177.37 L499.53,177.59 L500.32,177.79 L501.12,177.97 L501.91,178.15 L502.71,178.31 L503.5,178.46" fill="none" stroke="#8c4f4e" stroke-width="1.3" stroke-linejoin="round" />
<path d="M305,190.45 L305.79,190.34 L306.59,190.23 L307.38,190.11 L308.18,189.99 L308.97,189.87 L309.76,189.74 L310.56,189.61 L311.35,189.47 L312.15,189.33 L312.94,189.19 L313.73,189.04 L314.53,188.89 L315.32,188.73 L316.12,188.56 L316.91,188.39 L317.7,188.22 L318.5,188.03 L319.29,187.85 L320.09,187.65 L320.88,187.45 L321.67,187.24 L322.47,187.02 L323.26,186.79 L324.06,186.56 L324.85,186.31 L325.64,186.06 L326.44,185.8 L327.23,185.53 L328.03,185.24 L328.82,184.95 L329.61,184.65 L330.41,184.33 L331.2,184 L332,183.66 L332.79,183.31 L333.58,182.95 L334.38,182.57 L335.17,182.18 L335.97,181.77 L336.76,181.35 L337.55,180.91 L338.35,180.46 L339.14,179.99 L339.94,179.51 L340.73,179.01 L341.52,178.49 L342.32,177.96 L343.11,177.41 L343.91,176.83 L344.7,176.25 L345.49,175.64 L346.29,175.01 L347.08,174.36 L347.88,173.7 L348.67,173.01 L349.46,172.3 L350.26,171.58 L351.05,170.83 L351.85,170.06 L352.64,169.27 L353.43,168.46 L354.23,167.62 L355.02,166.77 L355.82,165.89 L356.61,164.99 L357.4,164.07 L358.2,163.13 L358.99,162.16 L359.79,161.17 L360.58,160.17 L361.37,159.14 L362.17,158.09 L362.96,157.01 L363.76,155.92 L364.55,154.81 L365.34,153.67 L366.14,152.52 L366.93,151.34 L367.73,150.15 L368.52,148.94 L369.31,147.71 L370.11,146.46 L370.9,145.2 L371.7,143.92 L372.49,142.62 L373.28,141.31 L374.08,139.98 L374.87,138.64 L375.67,137.29 L376.46,135.93 L377.25,134.56 L378.05,133.17 L378.84,131.78 L379.64,130.38 L380.43,128.97 L381.22,127.56 L382.02,126.14 L382.81,124.72 L383.61,123.3 L384.4,121.88 L385.19,120.46 L385.99,119.03 L386.78,117.62 L387.58,116.2 L388.37,114.79 L389.16,113.39 L389.96,112 L390.75,110.61 L391.55,109.24 L392.34,107.88 L393.13,106.53 L393.93,105.2 L394.72,103.88 L395.52,102.58 L396.31,101.3 L397.1,100.04 L397.9,98.8 L398.69,97.59 L399.49,96.4 L400.28,95.23 L401.07,94.09 L401.87,92.98 L402.66,91.9 L403.46,90.84 L404.25,89.82 L405.04,88.83 L405.84,87.87 L406.63,86.95 L407.43,86.06 L408.22,85.21 L409.01,84.39 L409.81,83.61 L410.6,82.87 L411.4,82.17 L412.19,81.51 L412.98,80.88 L413.78,80.3 L414.57,79.76 L415.37,79.25 L416.16,78.79 L416.95,78.37 L417.75,77.99 L418.54,77.65 L419.34,77.35 L420.13,77.09 L420.92,76.87 L421.72,76.7 L422.51,76.55 L423.31,76.45 L424.1,76.38 L424.89,76.35 L425.69,76.38 L426.48,76.46 L427.28,76.6 L428.07,76.8 L428.86,77.06 L429.66,77.38 L430.45,77.76 L431.25,78.19 L432.04,78.69 L432.83,79.25 L433.63,79.86 L434.42,80.54 L435.22,81.27 L436.01,82.05 L436.8,82.89 L437.6,83.79 L438.39,84.73 L439.19,85.73 L439.98,86.77 L440.77,87.87 L441.57,89 L442.36,90.18 L443.16,91.41 L443.95,92.67 L444.74,93.96 L445.54,95.3 L446.33,96.66 L447.13,98.06 L447.92,99.48 L448.71,100.93 L449.51,102.4 L450.3,103.89 L451.1,105.41 L451.89,106.93 L452.68,108.48 L453.48,110.03 L454.27,111.59 L455.07,113.16 L455.86,114.73 L456.65,116.31 L457.45,117.88 L458.24,119.45 L459.04,121.02 L459.83,122.58 L460.62,124.13 L461.42,125.68 L462.21,127.21 L463.01,128.72 L463.8,130.22 L464.59,131.71 L465.39,133.17 L466.18,134.61 L466.98,136.04 L467.77,137.43 L468.56,138.81 L469.36,140.16 L470.15,141.48 L470.95,142.78 L471.74,144.04 L472.53,145.28 L473.33,146.49 L474.12,147.67 L474.92,148.82 L475.71,149.94 L476.5,151.02 L477.3,152.08 L478.09,153.1 L478.89,154.09 L479.68,155.05 L480.47,155.97 L481.27,156.87 L482.06,157.73 L482.86,158.56 L483.65,159.36 L484.44,160.13 L485.24,160.87 L486.03,161.57 L486.83,162.25 L487.62,162.9 L488.41,163.52 L489.21,164.11 L490,164.68 L490.8,165.21 L491.59,165.72 L492.38,166.21 L493.18,166.67 L493.97,167.1 L494.77,167.52 L495.56,167.91 L496.35,168.27 L497.15,168.62 L497.94,168.94 L498.74,169.25 L499.53,169.53 L500.32,169.8 L501.12,170.05 L501.91,170.28 L502.71,170.49 L503.5,170.69" fill="none" stroke="#f0a040" stroke-width="1.3" stroke-linejoin="round" />
<path d="M305,189.54 L305.79,189.42 L306.59,189.31 L307.38,189.19 L308.18,189.06 L308.97,188.93 L309.76,188.8 L310.56,188.66 L311.35,188.52 L312.15,188.38 L312.94,188.23 L313.73,188.07 L314.53,187.91 L315.32,187.75 L316.12,187.58 L316.91,187.4 L317.7,187.22 L318.5,187.03 L319.29,186.83 L320.09,186.62 L320.88,186.41 L321.67,186.19 L322.47,185.96 L323.26,185.73 L324.06,185.48 L324.85,185.22 L325.64,184.96 L326.44,184.68 L327.23,184.4 L328.03,184.1 L328.82,183.8 L329.61,183.48 L330.41,183.14 L331.2,182.8 L332,182.44 L332.79,182.07 L333.58,181.69 L334.38,181.29 L335.17,180.88 L335.97,180.45 L336.76,180.01 L337.55,179.55 L338.35,179.07 L339.14,178.58 L339.94,178.07 L340.73,177.54 L341.52,177 L342.32,176.43 L343.11,175.85 L343.91,175.25 L344.7,174.63 L345.49,173.98 L346.29,173.32 L347.08,172.64 L347.88,171.94 L348.67,171.21 L349.46,170.47 L350.26,169.7 L351.05,168.91 L351.85,168.09 L352.64,167.26 L353.43,166.4 L354.23,165.52 L355.02,164.62 L355.82,163.69 L356.61,162.74 L357.4,161.77 L358.2,160.77 L358.99,159.75 L359.79,158.71 L360.58,157.64 L361.37,156.55 L362.17,155.44 L362.96,154.31 L363.76,153.15 L364.55,151.97 L365.34,150.78 L366.14,149.56 L366.93,148.31 L367.73,147.05 L368.52,145.77 L369.31,144.47 L370.11,143.15 L370.9,141.81 L371.7,140.46 L372.49,139.09 L373.28,137.7 L374.08,136.3 L374.87,134.88 L375.67,133.45 L376.46,132.01 L377.25,130.56 L378.05,129.09 L378.84,127.62 L379.64,126.14 L380.43,124.65 L381.22,123.16 L382.02,121.66 L382.81,120.16 L383.61,118.65 L384.4,117.15 L385.19,115.64 L385.99,114.14 L386.78,112.64 L387.58,111.14 L388.37,109.65 L389.16,108.17 L389.96,106.7 L390.75,105.23 L391.55,103.78 L392.34,102.34 L393.13,100.91 L393.93,99.5 L394.72,98.11 L395.52,96.74 L396.31,95.38 L397.1,94.05 L397.9,92.74 L398.69,91.46 L399.49,90.2 L400.28,88.96 L401.07,87.76 L401.87,86.58 L402.66,85.44 L403.46,84.32 L404.25,83.24 L405.04,82.2 L405.84,81.18 L406.63,80.21 L407.43,79.27 L408.22,78.37 L409.01,77.51 L409.81,76.68 L410.6,75.9 L411.4,75.16 L412.19,74.46 L412.98,73.8 L413.78,73.18 L414.57,72.61 L415.37,72.08 L416.16,71.59 L416.95,71.15 L417.75,70.75 L418.54,70.39 L419.34,70.08 L420.13,69.81 L420.92,69.58 L421.72,69.39 L422.51,69.25 L423.31,69.14 L424.1,69.07 L424.89,69.04 L425.69,69.07 L426.48,69.16 L427.28,69.32 L428.07,69.53 L428.86,69.81 L429.66,70.15 L430.45,70.55 L431.25,71.02 L432.04,71.55 L432.83,72.14 L433.63,72.8 L434.42,73.51 L435.22,74.29 L436.01,75.13 L436.8,76.02 L437.6,76.97 L438.39,77.98 L439.19,79.03 L439.98,80.14 L440.77,81.3 L441.57,82.51 L442.36,83.77 L443.16,85.06 L443.95,86.4 L444.74,87.78 L445.54,89.2 L446.33,90.65 L447.13,92.13 L447.92,93.64 L448.71,95.18 L449.51,96.74 L450.3,98.33 L451.1,99.93 L451.89,101.56 L452.68,103.19 L453.48,104.84 L454.27,106.5 L455.07,108.16 L455.86,109.83 L456.65,111.51 L457.45,113.18 L458.24,114.85 L459.04,116.51 L459.83,118.17 L460.62,119.82 L461.42,121.45 L462.21,123.08 L463.01,124.69 L463.8,126.28 L464.59,127.86 L465.39,129.41 L466.18,130.94 L466.98,132.45 L467.77,133.94 L468.56,135.4 L469.36,136.83 L470.15,138.24 L470.95,139.61 L471.74,140.96 L472.53,142.28 L473.33,143.56 L474.12,144.81 L474.92,146.03 L475.71,147.22 L476.5,148.37 L477.3,149.49 L478.09,150.58 L478.89,151.63 L479.68,152.65 L480.47,153.64 L481.27,154.59 L482.06,155.5 L482.86,156.39 L483.65,157.24 L484.44,158.06 L485.24,158.84 L486.03,159.59 L486.83,160.31 L487.62,161.01 L488.41,161.67 L489.21,162.3 L490,162.9 L490.8,163.47 L491.59,164.01 L492.38,164.53 L493.18,165.02 L493.97,165.48 L494.77,165.92 L495.56,166.34 L496.35,166.73 L497.15,167.1 L497.94,167.45 L498.74,167.77 L499.53,168.08 L500.32,168.36 L501.12,168.63 L501.91,168.88 L502.71,169.11 L503.5,169.32" fill="none" stroke="#c0703f" stroke-width="1.3" stroke-linejoin="round" />
<path d="M305,188.85 L305.79,188.73 L306.59,188.61 L307.38,188.49 L308.18,188.36 L308.97,188.23 L309.76,188.09 L310.56,187.95 L311.35,187.8 L312.15,187.65 L312.94,187.5 L313.73,187.34 L314.53,187.17 L315.32,187 L316.12,186.82 L316.91,186.64 L317.7,186.45 L318.5,186.25 L319.29,186.05 L320.09,185.83 L320.88,185.61 L321.67,185.38 L322.47,185.15 L323.26,184.9 L324.06,184.64 L324.85,184.38 L325.64,184.1 L326.44,183.81 L327.23,183.52 L328.03,183.21 L328.82,182.88 L329.61,182.55 L330.41,182.21 L331.2,181.85 L332,181.47 L332.79,181.09 L333.58,180.68 L334.38,180.27 L335.17,179.84 L335.97,179.39 L336.76,178.93 L337.55,178.44 L338.35,177.95 L339.14,177.43 L339.94,176.9 L340.73,176.35 L341.52,175.77 L342.32,175.18 L343.11,174.57 L343.91,173.94 L344.7,173.29 L345.49,172.62 L346.29,171.93 L347.08,171.21 L347.88,170.47 L348.67,169.72 L349.46,168.93 L350.26,168.13 L351.05,167.3 L351.85,166.45 L352.64,165.57 L353.43,164.67 L354.23,163.75 L355.02,162.8 L355.82,161.83 L356.61,160.83 L357.4,159.81 L358.2,158.77 L358.99,157.7 L359.79,156.6 L360.58,155.48 L361.37,154.34 L362.17,153.18 L362.96,151.99 L363.76,150.77 L364.55,149.54 L365.34,148.28 L366.14,147 L366.93,145.7 L367.73,144.37 L368.52,143.03 L369.31,141.66 L370.11,140.28 L370.9,138.87 L371.7,137.45 L372.49,136.01 L373.28,134.56 L374.08,133.09 L374.87,131.6 L375.67,130.1 L376.46,128.59 L377.25,127.06 L378.05,125.52 L378.84,123.98 L379.64,122.42 L380.43,120.86 L381.22,119.29 L382.02,117.72 L382.81,116.14 L383.61,114.56 L384.4,112.98 L385.19,111.4 L385.99,109.83 L386.78,108.25 L387.58,106.68 L388.37,105.12 L389.16,103.56 L389.96,102.01 L390.75,100.48 L391.55,98.95 L392.34,97.44 L393.13,95.94 L393.93,94.46 L394.72,93 L395.52,91.56 L396.31,90.14 L397.1,88.74 L397.9,87.37 L398.69,86.02 L399.49,84.7 L400.28,83.4 L401.07,82.14 L401.87,80.9 L402.66,79.7 L403.46,78.53 L404.25,77.4 L405.04,76.3 L405.84,75.24 L406.63,74.22 L407.43,73.23 L408.22,72.29 L409.01,71.38 L409.81,70.52 L410.6,69.7 L411.4,68.92 L412.19,68.19 L412.98,67.5 L413.78,66.85 L414.57,66.25 L415.37,65.7 L416.16,65.19 L416.95,64.73 L417.75,64.31 L418.54,63.94 L419.34,63.61 L420.13,63.33 L420.92,63.09 L421.72,62.89 L422.51,62.74 L423.31,62.63 L424.1,62.56 L424.89,62.53 L425.69,62.57 L426.48,62.66 L427.28,62.83 L428.07,63.05 L428.86,63.35 L429.66,63.71 L430.45,64.13 L431.25,64.63 L432.04,65.19 L432.83,65.81 L433.63,66.5 L434.42,67.26 L435.22,68.08 L436.01,68.96 L436.8,69.9 L437.6,70.9 L438.39,71.96 L439.19,73.08 L439.98,74.25 L440.77,75.47 L441.57,76.74 L442.36,78.06 L443.16,79.43 L443.95,80.84 L444.74,82.29 L445.54,83.78 L446.33,85.31 L447.13,86.87 L447.92,88.46 L448.71,90.08 L449.51,91.72 L450.3,93.39 L451.1,95.08 L451.89,96.79 L452.68,98.51 L453.48,100.25 L454.27,101.99 L455.07,103.75 L455.86,105.5 L456.65,107.26 L457.45,109.02 L458.24,110.78 L459.04,112.53 L459.83,114.28 L460.62,116.01 L461.42,117.74 L462.21,119.45 L463.01,121.14 L463.8,122.82 L464.59,124.48 L465.39,126.11 L466.18,127.73 L466.98,129.32 L467.77,130.88 L468.56,132.42 L469.36,133.93 L470.15,135.41 L470.95,136.86 L471.74,138.27 L472.53,139.66 L473.33,141.01 L474.12,142.33 L474.92,143.61 L475.71,144.87 L476.5,146.08 L477.3,147.26 L478.09,148.4 L478.89,149.51 L479.68,150.59 L480.47,151.62 L481.27,152.62 L482.06,153.59 L482.86,154.52 L483.65,155.42 L484.44,156.28 L485.24,157.11 L486.03,157.9 L486.83,158.66 L487.62,159.39 L488.41,160.09 L489.21,160.75 L490,161.39 L490.8,161.99 L491.59,162.56 L492.38,163.11 L493.18,163.63 L493.97,164.12 L494.77,164.58 L495.56,165.02 L496.35,165.44 L497.15,165.83 L497.94,166.19 L498.74,166.54 L499.53,166.86 L500.32,167.16 L501.12,167.44 L501.91,167.71 L502.71,167.95 L503.5,168.18" fill="none" stroke="#9566c0" stroke-width="1.3" stroke-linejoin="round" />
<path d="M305,188.62 L305.79,188.51 L306.59,188.38 L307.38,188.26 L308.18,188.13 L308.97,187.99 L309.76,187.86 L310.56,187.72 L311.35,187.57 L312.15,187.42 L312.94,187.26 L313.73,187.1 L314.53,186.93 L315.32,186.76 L316.12,186.58 L316.91,186.4 L317.7,186.21 L318.5,186.01 L319.29,185.8 L320.09,185.59 L320.88,185.36 L321.67,185.13 L322.47,184.9 L323.26,184.65 L324.06,184.39 L324.85,184.12 L325.64,183.85 L326.44,183.56 L327.23,183.26 L328.03,182.95 L328.82,182.63 L329.61,182.29 L330.41,181.94 L331.2,181.58 L332,181.21 L332.79,180.82 L333.58,180.42 L334.38,180 L335.17,179.57 L335.97,179.12 L336.76,178.66 L337.55,178.17 L338.35,177.67 L339.14,177.16 L339.94,176.62 L340.73,176.07 L341.52,175.5 L342.32,174.91 L343.11,174.29 L343.91,173.66 L344.7,173.01 L345.49,172.34 L346.29,171.64 L347.08,170.92 L347.88,170.19 L348.67,169.42 L349.46,168.64 L350.26,167.83 L351.05,167 L351.85,166.15 L352.64,165.27 L353.43,164.37 L354.23,163.45 L355.02,162.5 L355.82,161.52 L356.61,160.53 L357.4,159.5 L358.2,158.46 L358.99,157.39 L359.79,156.29 L360.58,155.17 L361.37,154.03 L362.17,152.86 L362.96,151.67 L363.76,150.45 L364.55,149.22 L365.34,147.95 L366.14,146.67 L366.93,145.37 L367.73,144.04 L368.52,142.7 L369.31,141.33 L370.11,139.94 L370.9,138.54 L371.7,137.11 L372.49,135.67 L373.28,134.21 L374.08,132.74 L374.87,131.25 L375.67,129.75 L376.46,128.23 L377.25,126.71 L378.05,125.17 L378.84,123.62 L379.64,122.06 L380.43,120.5 L381.22,118.93 L382.02,117.35 L382.81,115.77 L383.61,114.19 L384.4,112.61 L385.19,111.03 L385.99,109.45 L386.78,107.87 L387.58,106.3 L388.37,104.73 L389.16,103.17 L389.96,101.62 L390.75,100.09 L391.55,98.56 L392.34,97.05 L393.13,95.55 L393.93,94.07 L394.72,92.6 L395.52,91.16 L396.31,89.74 L397.1,88.33 L397.9,86.96 L398.69,85.61 L399.49,84.28 L400.28,82.99 L401.07,81.72 L401.87,80.49 L402.66,79.28 L403.46,78.11 L404.25,76.98 L405.04,75.88 L405.84,74.81 L406.63,73.79 L407.43,72.8 L408.22,71.86 L409.01,70.95 L409.81,70.09 L410.6,69.26 L411.4,68.49 L412.19,67.75 L412.98,67.06 L413.78,66.41 L414.57,65.81 L415.37,65.25 L416.16,64.74 L416.95,64.28 L417.75,63.86 L418.54,63.49 L419.34,63.16 L420.13,62.87 L420.92,62.64 L421.72,62.44 L422.51,62.29 L423.31,62.18 L424.1,62.1 L424.89,62.08 L425.69,62.11 L426.48,62.21 L427.28,62.37 L428.07,62.59 L428.86,62.89 L429.66,63.25 L430.45,63.67 L431.25,64.17 L432.04,64.72 L432.83,65.35 L433.63,66.04 L434.42,66.8 L435.22,67.62 L436.01,68.5 L436.8,69.44 L437.6,70.44 L438.39,71.5 L439.19,72.61 L439.98,73.78 L440.77,75.01 L441.57,76.28 L442.36,77.6 L443.16,78.97 L443.95,80.38 L444.74,81.83 L445.54,83.32 L446.33,84.84 L447.13,86.41 L447.92,88 L448.71,89.62 L449.51,91.26 L450.3,92.93 L451.1,94.62 L451.89,96.33 L452.68,98.05 L453.48,99.79 L454.27,101.54 L455.07,103.29 L455.86,105.05 L456.65,106.81 L457.45,108.57 L458.24,110.33 L459.04,112.08 L459.83,113.82 L460.62,115.56 L461.42,117.28 L462.21,119 L463.01,120.69 L463.8,122.37 L464.59,124.03 L465.39,125.66 L466.18,127.28 L466.98,128.87 L467.77,130.43 L468.56,131.97 L469.36,133.48 L470.15,134.96 L470.95,136.41 L471.74,137.83 L472.53,139.21 L473.33,140.56 L474.12,141.88 L474.92,143.17 L475.71,144.42 L476.5,145.63 L477.3,146.81 L478.09,147.96 L478.89,149.07 L479.68,150.14 L480.47,151.18 L481.27,152.18 L482.06,153.15 L482.86,154.08 L483.65,154.97 L484.44,155.83 L485.24,156.66 L486.03,157.46 L486.83,158.22 L487.62,158.94 L488.41,159.64 L489.21,160.3 L490,160.94 L490.8,161.54 L491.59,162.11 L492.38,162.66 L493.18,163.18 L493.97,163.67 L494.77,164.13 L495.56,164.57 L496.35,164.98 L497.15,165.37 L497.94,165.74 L498.74,166.08 L499.53,166.41 L500.32,166.71 L501.12,166.99 L501.91,167.25 L502.71,167.5 L503.5,167.72" fill="none" stroke="#3f3f62" stroke-width="1.3" stroke-linejoin="round" />
<rect x="305" y="45.4" width="198.5" height="159.9" fill="none" stroke="#2b2b2b" stroke-width="1.3"/>
<line x1="305" y1="205.3" x2="305" y2="208.8" stroke="#2b2b2b" stroke-width="1.2"/>
<text x="305" y="218.2" font-family="'Liberation Sans', sans-serif" font-size="9.2" font-weight="bold" text-anchor="middle" fill="#1a1a1a" >500</text>
<line x1="344.7" y1="205.3" x2="344.7" y2="208.8" stroke="#2b2b2b" stroke-width="1.2"/>
<text x="344.7" y="218.2" font-family="'Liberation Sans', sans-serif" font-size="9.2" font-weight="bold" text-anchor="middle" fill="#1a1a1a" >550</text>
<line x1="384.4" y1="205.3" x2="384.4" y2="208.8" stroke="#2b2b2b" stroke-width="1.2"/>
<text x="384.4" y="218.2" font-family="'Liberation Sans', sans-serif" font-size="9.2" font-weight="bold" text-anchor="middle" fill="#1a1a1a" >600</text>
<line x1="424.1" y1="205.3" x2="424.1" y2="208.8" stroke="#2b2b2b" stroke-width="1.2"/>
<text x="424.1" y="218.2" font-family="'Liberation Sans', sans-serif" font-size="9.2" font-weight="bold" text-anchor="middle" fill="#1a1a1a" >650</text>
<line x1="463.8" y1="205.3" x2="463.8" y2="208.8" stroke="#2b2b2b" stroke-width="1.2"/>
<text x="463.8" y="218.2" font-family="'Liberation Sans', sans-serif" font-size="9.2" font-weight="bold" text-anchor="middle" fill="#1a1a1a" >700</text>
<line x1="503.5" y1="205.3" x2="503.5" y2="208.8" stroke="#2b2b2b" stroke-width="1.2"/>
<text x="503.5" y="218.2" font-family="'Liberation Sans', sans-serif" font-size="9.2" font-weight="bold" text-anchor="middle" fill="#1a1a1a" >750</text>
<line x1="301.5" y1="205.3" x2="305" y2="205.3" stroke="#2b2b2b" stroke-width="1.2"/>
<text x="299.4" y="208.61" font-family="'Liberation Sans', sans-serif" font-size="9.2" font-weight="bold" text-anchor="end" fill="#1a1a1a" >0.0</text>
<line x1="301.5" y1="159.61" x2="305" y2="159.61" stroke="#2b2b2b" stroke-width="1.2"/>
<text x="299.4" y="162.93" font-family="'Liberation Sans', sans-serif" font-size="9.2" font-weight="bold" text-anchor="end" fill="#1a1a1a" >0.4</text>
<line x1="301.5" y1="113.93" x2="305" y2="113.93" stroke="#2b2b2b" stroke-width="1.2"/>
<text x="299.4" y="117.24" font-family="'Liberation Sans', sans-serif" font-size="9.2" font-weight="bold" text-anchor="end" fill="#1a1a1a" >0.8</text>
<line x1="301.5" y1="68.24" x2="305" y2="68.24" stroke="#2b2b2b" stroke-width="1.2"/>
<text x="299.4" y="71.55" font-family="'Liberation Sans', sans-serif" font-size="9.2" font-weight="bold" text-anchor="end" fill="#1a1a1a" >1.2</text>
<text x="404.3" y="231" font-family="'Liberation Sans', sans-serif" font-size="11.4" font-weight="bold" text-anchor="middle" fill="#1a1a1a" textLength="91.4" lengthAdjust="spacingAndGlyphs" >Wavelength (nm)</text>
<text transform="translate(281,123.3) rotate(-90)" x="0" y="0" font-family="'Liberation Sans', sans-serif" font-size="11.4" font-weight="bold" text-anchor="middle" fill="#1a1a1a" textLength="97" lengthAdjust="spacingAndGlyphs">Absorbance (a.u.)</text>
<line x1="318" y1="56" x2="332.8" y2="56" stroke="#6fa6d6" stroke-width="1.5"/>
<text x="334.4" y="59.2" font-family="'Liberation Sans', sans-serif" font-size="6.5" font-weight="bold" text-anchor="start" fill="#1a1a1a" textLength="30.5" lengthAdjust="spacingAndGlyphs" >10 μg mL<tspan font-size="4.2" dy="-2.5">-1</tspan></text>
<line x1="318" y1="63.88" x2="332.8" y2="63.88" stroke="#4c5e86" stroke-width="1.5"/>
<text x="334.4" y="67.08" font-family="'Liberation Sans', sans-serif" font-size="6.5" font-weight="bold" text-anchor="start" fill="#1a1a1a" >20</text>
<line x1="318" y1="71.76" x2="332.8" y2="71.76" stroke="#86c35a" stroke-width="1.5"/>
<text x="334.4" y="74.96" font-family="'Liberation Sans', sans-serif" font-size="6.5" font-weight="bold" text-anchor="start" fill="#1a1a1a" >30</text>
<line x1="318" y1="79.64" x2="332.8" y2="79.64" stroke="#3e7b43" stroke-width="1.5"/>
<text x="334.4" y="82.84" font-family="'Liberation Sans', sans-serif" font-size="6.5" font-weight="bold" text-anchor="start" fill="#1a1a1a" >40</text>
<line x1="318" y1="87.52" x2="332.8" y2="87.52" stroke="#e0393e" stroke-width="1.5"/>
<text x="334.4" y="90.72" font-family="'Liberation Sans', sans-serif" font-size="6.5" font-weight="bold" text-anchor="start" fill="#1a1a1a" >50</text>
<line x1="318" y1="95.4" x2="332.8" y2="95.4" stroke="#8c4f4e" stroke-width="1.5"/>
<text x="334.4" y="98.6" font-family="'Liberation Sans', sans-serif" font-size="6.5" font-weight="bold" text-anchor="start" fill="#1a1a1a" >70</text>
<line x1="318" y1="103.28" x2="332.8" y2="103.28" stroke="#f0a040" stroke-width="1.5"/>
<text x="334.4" y="106.48" font-family="'Liberation Sans', sans-serif" font-size="6.5" font-weight="bold" text-anchor="start" fill="#1a1a1a" >90</text>
<line x1="318" y1="111.16" x2="332.8" y2="111.16" stroke="#c0703f" stroke-width="1.5"/>
<text x="334.4" y="114.36" font-family="'Liberation Sans', sans-serif" font-size="6.5" font-weight="bold" text-anchor="start" fill="#1a1a1a" >100</text>
<line x1="318" y1="119.04" x2="332.8" y2="119.04" stroke="#9566c0" stroke-width="1.5"/>
<text x="334.4" y="122.24" font-family="'Liberation Sans', sans-serif" font-size="6.5" font-weight="bold" text-anchor="start" fill="#1a1a1a" >120</text>
<line x1="318" y1="126.92" x2="332.8" y2="126.92" stroke="#3f3f62" stroke-width="1.5"/>
<text x="334.4" y="130.12" font-family="'Liberation Sans', sans-serif" font-size="6.5" font-weight="bold" text-anchor="start" fill="#1a1a1a" >140</text>
<text x="517" y="34.2" font-family="'Liberation Sans', sans-serif" font-size="27" font-weight="normal" text-anchor="start" fill="#000" stroke="#000" stroke-width="0.85">c</text>
<path d="M568.35,181.31 L737.15,57.65" fill="none" stroke="#c0504d" stroke-width="1.3" stroke-linejoin="round" />
<path d="M568.35,180.41 V181.21 M565.45,180.41 H571.25 M565.45,181.21 H571.25" stroke="#111" stroke-width="1.1" fill="none"/>
<circle cx="568.35" cy="180.81" r="1.7" fill="#111"/>
<path d="M583.69,167.77 V173.74 M580.79,167.77 H586.59 M580.79,173.74 H586.59" stroke="#111" stroke-width="1.1" fill="none"/>
<circle cx="583.69" cy="170.75" r="1.7" fill="#111"/>
<path d="M599.04,149.55 V154.53 M596.14,149.55 H601.94 M596.14,154.53 H601.94" stroke="#111" stroke-width="1.1" fill="none"/>
<circle cx="599.04" cy="152.04" r="1.7" fill="#111"/>
<path d="M614.38,137.2 V148.35 M611.48,137.2 H617.28 M611.48,148.35 H617.28" stroke="#111" stroke-width="1.1" fill="none"/>
<circle cx="614.38" cy="142.78" r="1.7" fill="#111"/>
<path d="M629.73,130.03 V133.02 M626.83,130.03 H632.63 M626.83,133.02 H632.63" stroke="#111" stroke-width="1.1" fill="none"/>
<circle cx="629.73" cy="131.53" r="1.7" fill="#111"/>
<path d="M660.42,109.32 V113.31 M657.52,109.32 H663.32 M657.52,113.31 H663.32" stroke="#111" stroke-width="1.1" fill="none"/>
<circle cx="660.42" cy="111.32" r="1.7" fill="#111"/>
<path d="M691.12,90.61 V95.59 M688.22,90.61 H694.02 M688.22,95.59 H694.02" stroke="#111" stroke-width="1.1" fill="none"/>
<circle cx="691.12" cy="93.1" r="1.7" fill="#111"/>
<path d="M706.46,80.95 V90.31 M703.56,80.95 H709.36 M703.56,90.31 H709.36" stroke="#111" stroke-width="1.1" fill="none"/>
<circle cx="706.46" cy="85.63" r="1.7" fill="#111"/>
<path d="M737.15,68.11 V79.46 M734.25,68.11 H740.05 M734.25,79.46 H740.05" stroke="#111" stroke-width="1.1" fill="none"/>
<circle cx="737.15" cy="73.78" r="1.7" fill="#111"/>
<rect x="553" y="46.7" width="199.5" height="159.3" fill="none" stroke="#2b2b2b" stroke-width="1.3"/>
<line x1="553" y1="206" x2="553" y2="209.5" stroke="#2b2b2b" stroke-width="1.2"/>
<text x="553" y="218.5" font-family="'Liberation Sans', sans-serif" font-size="9.2" font-weight="bold" text-anchor="middle" fill="#1a1a1a" >0</text>
<line x1="599.04" y1="206" x2="599.04" y2="209.5" stroke="#2b2b2b" stroke-width="1.2"/>
<text x="599.04" y="218.5" font-family="'Liberation Sans', sans-serif" font-size="9.2" font-weight="bold" text-anchor="middle" fill="#1a1a1a" >30</text>
<line x1="645.08" y1="206" x2="645.08" y2="209.5" stroke="#2b2b2b" stroke-width="1.2"/>
<text x="645.08" y="218.5" font-family="'Liberation Sans', sans-serif" font-size="9.2" font-weight="bold" text-anchor="middle" fill="#1a1a1a" >60</text>
<line x1="691.12" y1="206" x2="691.12" y2="209.5" stroke="#2b2b2b" stroke-width="1.2"/>
<text x="691.12" y="218.5" font-family="'Liberation Sans', sans-serif" font-size="9.2" font-weight="bold" text-anchor="middle" fill="#1a1a1a" >90</text>
<line x1="737.15" y1="206" x2="737.15" y2="209.5" stroke="#2b2b2b" stroke-width="1.2"/>
<text x="737.15" y="218.5" font-family="'Liberation Sans', sans-serif" font-size="9.2" font-weight="bold" text-anchor="middle" fill="#1a1a1a" >120</text>
<line x1="549.5" y1="196.04" x2="553" y2="196.04" stroke="#2b2b2b" stroke-width="1.2"/>
<text x="548.2" y="199.36" font-family="'Liberation Sans', sans-serif" font-size="9.2" font-weight="bold" text-anchor="end" fill="#1a1a1a" >0.0</text>
<line x1="549.5" y1="146.26" x2="553" y2="146.26" stroke="#2b2b2b" stroke-width="1.2"/>
<text x="548.2" y="149.57" font-family="'Liberation Sans', sans-serif" font-size="9.2" font-weight="bold" text-anchor="end" fill="#1a1a1a" >0.5</text>
<line x1="549.5" y1="96.48" x2="553" y2="96.48" stroke="#2b2b2b" stroke-width="1.2"/>
<text x="548.2" y="99.79" font-family="'Liberation Sans', sans-serif" font-size="9.2" font-weight="bold" text-anchor="end" fill="#1a1a1a" >1.0</text>
<line x1="549.5" y1="46.7" x2="553" y2="46.7" stroke="#2b2b2b" stroke-width="1.2"/>
<text x="548.2" y="50.01" font-family="'Liberation Sans', sans-serif" font-size="9.2" font-weight="bold" text-anchor="end" fill="#1a1a1a" >1.5</text>
<text x="652.7" y="232.4" font-family="'Liberation Sans', sans-serif" font-size="11.4" font-weight="bold" text-anchor="middle" fill="#1a1a1a">MnO<tspan font-size="7.5" dy="2.5">2</tspan><tspan dy="-2.5"> NSs (μg mL</tspan><tspan font-size="7" dy="-4">-1</tspan><tspan dy="4">)</tspan></text>
<text transform="translate(529,125) rotate(-90)" x="0" y="0" font-family="'Liberation Sans', sans-serif" font-size="11.4" font-weight="bold" text-anchor="middle" fill="#1a1a1a" textLength="97" lengthAdjust="spacingAndGlyphs">Absorbance (a.u.)</text>
<text x="573.8" y="72.8" font-family="'Liberation Sans', sans-serif" font-size="10.2" font-weight="bold" text-anchor="start" fill="#1a1a1a" textLength="40.5" lengthAdjust="spacingAndGlyphs" stroke="#1a1a1a" stroke-width="0.3">R<tspan font-size="7" dy="-3.6">2</tspan><tspan dy="3.6">=0.992</tspan></text>
<text x="23.6" y="251" font-family="'Liberation Sans', sans-serif" font-size="25.5" font-weight="normal" text-anchor="start" fill="#000" stroke="#000" stroke-width="0.85">d</text>
<path d="M75.9,399.71 L100.8,325.06 L125.7,318.65 L150.6,298.79 L175.5,322.18 L200.4,335.95 L225.3,379.85" fill="none" stroke="#3b4766" stroke-width="1.2" stroke-linejoin="round" />
<rect x="74.1" y="397.91" width="3.6" height="3.6" fill="#0d1b45"/>
<path d="M100.8,323.14 V326.98 M98.6,323.14 H103 M98.6,326.98 H103" stroke="#111" stroke-width="0.9" fill="none"/>
<rect x="99" y="323.26" width="3.6" height="3.6" fill="#0d1b45"/>
<path d="M125.7,316.09 V321.21 M123.5,316.09 H127.9 M123.5,321.21 H127.9" stroke="#111" stroke-width="0.9" fill="none"/>
<rect x="123.9" y="316.85" width="3.6" height="3.6" fill="#0d1b45"/>
<path d="M150.6,288.53 V309.04 M148.4,288.53 H152.8 M148.4,309.04 H152.8" stroke="#111" stroke-width="0.9" fill="none"/>
<rect x="148.8" y="296.99" width="3.6" height="3.6" fill="#0d1b45"/>
<path d="M175.5,320.89 V323.46 M173.3,320.89 H177.7 M173.3,323.46 H177.7" stroke="#111" stroke-width="0.9" fill="none"/>
<rect x="173.7" y="320.38" width="3.6" height="3.6" fill="#0d1b45"/>
<path d="M200.4,334.03 V337.88 M198.2,334.03 H202.6 M198.2,337.88 H202.6" stroke="#111" stroke-width="0.9" fill="none"/>
<rect x="198.6" y="334.15" width="3.6" height="3.6" fill="#0d1b45"/>
<path d="M225.3,372.8 V386.9 M223.1,372.8 H227.5 M223.1,386.9 H227.5" stroke="#111" stroke-width="0.9" fill="none"/>
<rect x="223.5" y="378.05" width="3.6" height="3.6" fill="#0d1b45"/>
<rect x="51" y="261.3" width="199.2" height="160.2" fill="none" stroke="#2b2b2b" stroke-width="1.3"/>
<line x1="75.9" y1="421.5" x2="75.9" y2="425" stroke="#2b2b2b" stroke-width="1.2"/>
<text x="75.9" y="434.6" font-family="'Liberation Sans', sans-serif" font-size="9.2" font-weight="bold" text-anchor="middle" fill="#1a1a1a" >2</text>
<line x1="125.7" y1="421.5" x2="125.7" y2="425" stroke="#2b2b2b" stroke-width="1.2"/>
<text x="125.7" y="434.6" font-family="'Liberation Sans', sans-serif" font-size="9.2" font-weight="bold" text-anchor="middle" fill="#1a1a1a" >4</text>
<line x1="175.5" y1="421.5" x2="175.5" y2="425" stroke="#2b2b2b" stroke-width="1.2"/>
<text x="175.5" y="434.6" font-family="'Liberation Sans', sans-serif" font-size="9.2" font-weight="bold" text-anchor="middle" fill="#1a1a1a" >6</text>
<line x1="225.3" y1="421.5" x2="225.3" y2="425" stroke="#2b2b2b" stroke-width="1.2"/>
<text x="225.3" y="434.6" font-family="'Liberation Sans', sans-serif" font-size="9.2" font-weight="bold" text-anchor="middle" fill="#1a1a1a" >8</text>
<line x1="47.5" y1="405.48" x2="51" y2="405.48" stroke="#2b2b2b" stroke-width="1.2"/>
<text x="45.8" y="408.79" font-family="'Liberation Sans', sans-serif" font-size="9.2" font-weight="bold" text-anchor="end" fill="#1a1a1a" >0.1</text>
<line x1="47.5" y1="373.44" x2="51" y2="373.44" stroke="#2b2b2b" stroke-width="1.2"/>
<text x="45.8" y="376.75" font-family="'Liberation Sans', sans-serif" font-size="9.2" font-weight="bold" text-anchor="end" fill="#1a1a1a" >0.2</text>
<line x1="47.5" y1="341.4" x2="51" y2="341.4" stroke="#2b2b2b" stroke-width="1.2"/>
<text x="45.8" y="344.71" font-family="'Liberation Sans', sans-serif" font-size="9.2" font-weight="bold" text-anchor="end" fill="#1a1a1a" >0.3</text>
<line x1="47.5" y1="309.36" x2="51" y2="309.36" stroke="#2b2b2b" stroke-width="1.2"/>
<text x="45.8" y="312.67" font-family="'Liberation Sans', sans-serif" font-size="9.2" font-weight="bold" text-anchor="end" fill="#1a1a1a" >0.4</text>
<line x1="47.5" y1="277.32" x2="51" y2="277.32" stroke="#2b2b2b" stroke-width="1.2"/>
<text x="45.8" y="280.63" font-family="'Liberation Sans', sans-serif" font-size="9.2" font-weight="bold" text-anchor="end" fill="#1a1a1a" >0.5</text>
<text x="147.5" y="443.6" font-family="'Liberation Sans', sans-serif" font-size="11.4" font-weight="bold" text-anchor="middle" fill="#1a1a1a" >pH</text>
<text transform="translate(25.5,340) rotate(-90)" x="0" y="0" font-family="'Liberation Sans', sans-serif" font-size="11.4" font-weight="bold" text-anchor="middle" fill="#1a1a1a" textLength="97" lengthAdjust="spacingAndGlyphs">Absorbance (a.u.)</text>
<text x="268.3" y="251.2" font-family="'Liberation Sans', sans-serif" font-size="26" font-weight="normal" text-anchor="start" fill="#000" stroke="#000" stroke-width="0.85">e</text>
<rect x="310.75" y="291.91" width="11.5" height="130.49" fill="#053580"/>
<path d="M316.5,288.69 V295.13 M314.3,288.69 H318.7 M314.3,295.13 H318.7" stroke="#111" stroke-width="0.9" fill="none"/>
<rect x="335.75" y="296.74" width="11.5" height="125.66" fill="#053580"/>
<path d="M341.5,294.16 V299.32 M339.3,294.16 H343.7 M339.3,299.32 H343.7" stroke="#111" stroke-width="0.9" fill="none"/>
<rect x="360.75" y="296.74" width="11.5" height="125.66" fill="#053580"/>
<path d="M366.5,290.94 V302.54 M364.3,290.94 H368.7 M364.3,302.54 H368.7" stroke="#111" stroke-width="0.9" fill="none"/>
<rect x="385.75" y="304.15" width="11.5" height="118.25" fill="#053580"/>
<path d="M391.5,301.57 V306.73 M389.3,301.57 H393.7 M389.3,306.73 H393.7" stroke="#111" stroke-width="0.9" fill="none"/>
<rect x="410.75" y="299.64" width="11.5" height="122.76" fill="#053580"/>
<path d="M416.5,294.81 V304.47 M414.3,294.81 H418.7 M414.3,304.47 H418.7" stroke="#111" stroke-width="0.9" fill="none"/>
<rect x="435.75" y="298.03" width="11.5" height="124.37" fill="#053580"/>
<path d="M441.5,296.1 V299.96 M439.3,296.1 H443.7 M439.3,299.96 H443.7" stroke="#111" stroke-width="0.9" fill="none"/>
<rect x="460.75" y="301.57" width="11.5" height="120.82" fill="#053580"/>
<path d="M466.5,295.78 V307.37 M464.3,295.78 H468.7 M464.3,307.37 H468.7" stroke="#111" stroke-width="0.9" fill="none"/>
<rect x="485.75" y="297.06" width="11.5" height="125.34" fill="#053580"/>
<path d="M491.5,295.45 V298.68 M489.3,295.45 H493.7 M489.3,298.68 H493.7" stroke="#111" stroke-width="0.9" fill="none"/>
<rect x="304" y="261.3" width="200" height="161.1" fill="none" stroke="#2b2b2b" stroke-width="1.3"/>
<line x1="341.5" y1="422.4" x2="341.5" y2="425.4" stroke="#2b2b2b" stroke-width="1.2"/>
<text x="341.5" y="435" font-family="'Liberation Sans', sans-serif" font-size="9.2" font-weight="bold" text-anchor="middle" fill="#1a1a1a" >40</text>
<line x1="391.5" y1="422.4" x2="391.5" y2="425.4" stroke="#2b2b2b" stroke-width="1.2"/>
<text x="391.5" y="435" font-family="'Liberation Sans', sans-serif" font-size="9.2" font-weight="bold" text-anchor="middle" fill="#1a1a1a" >60</text>
<line x1="441.5" y1="422.4" x2="441.5" y2="425.4" stroke="#2b2b2b" stroke-width="1.2"/>
<text x="441.5" y="435" font-family="'Liberation Sans', sans-serif" font-size="9.2" font-weight="bold" text-anchor="middle" fill="#1a1a1a" >80</text>
<line x1="491.5" y1="422.4" x2="491.5" y2="425.4" stroke="#2b2b2b" stroke-width="1.2"/>
<text x="491.5" y="435" font-family="'Liberation Sans', sans-serif" font-size="9.2" font-weight="bold" text-anchor="middle" fill="#1a1a1a" >100</text>
<line x1="316.5" y1="422.4" x2="316.5" y2="423.9" stroke="#2b2b2b" stroke-width="1.1"/>
<line x1="366.5" y1="422.4" x2="366.5" y2="423.9" stroke="#2b2b2b" stroke-width="1.1"/>
<line x1="416.5" y1="422.4" x2="416.5" y2="423.9" stroke="#2b2b2b" stroke-width="1.1"/>
<line x1="466.5" y1="422.4" x2="466.5" y2="423.9" stroke="#2b2b2b" stroke-width="1.1"/>
<line x1="300.5" y1="422.4" x2="304" y2="422.4" stroke="#2b2b2b" stroke-width="1.2"/>
<text x="298.4" y="425.71" font-family="'Liberation Sans', sans-serif" font-size="9.2" font-weight="bold" text-anchor="end" fill="#1a1a1a" >0.0</text>
<line x1="300.5" y1="357.96" x2="304" y2="357.96" stroke="#2b2b2b" stroke-width="1.2"/>
<text x="298.4" y="361.27" font-family="'Liberation Sans', sans-serif" font-size="9.2" font-weight="bold" text-anchor="end" fill="#1a1a1a" >0.2</text>
<line x1="300.5" y1="293.52" x2="304" y2="293.52" stroke="#2b2b2b" stroke-width="1.2"/>
<text x="298.4" y="296.83" font-family="'Liberation Sans', sans-serif" font-size="9.2" font-weight="bold" text-anchor="end" fill="#1a1a1a" >0.4</text>
<text x="408" y="448.3" font-family="'Liberation Sans', sans-serif" font-size="11.4" font-weight="bold" text-anchor="middle" fill="#1a1a1a" textLength="92" lengthAdjust="spacingAndGlyphs" >Temperatrue (°C)</text>
<text transform="translate(280.6,341.7) rotate(-90)" x="0" y="0" font-family="'Liberation Sans', sans-serif" font-size="11.4" font-weight="bold" text-anchor="middle" fill="#1a1a1a" textLength="97" lengthAdjust="spacingAndGlyphs">Absorbance (a.u.)</text>
<text x="519" y="251.6" font-family="'Liberation Sans', sans-serif" font-size="25" font-weight="normal" text-anchor="start" fill="#000" stroke="#000" stroke-width="0.85">f</text>
<path d="M570.78,412.76 L571.15,411.79 L571.51,410.83 L571.87,409.89 L572.24,408.96 L572.6,408.04 L572.96,407.13 L573.33,406.24 L573.69,405.36 L574.05,404.49 L574.42,403.63 L574.78,402.78 L575.15,401.95 L575.51,401.13 L575.87,400.31 L576.24,399.51 L576.6,398.72 L576.96,397.94 L577.33,397.16 L577.69,396.4 L578.05,395.65 L578.42,394.91 L578.78,394.17 L579.15,393.45 L579.51,392.73 L579.87,392.03 L580.24,391.33 L580.6,390.64 L580.96,389.96 L581.33,389.28 L581.69,388.62 L582.05,387.96 L582.42,387.31 L582.78,386.67 L583.15,386.03 L583.51,385.41 L583.87,384.79 L584.24,384.17 L584.6,383.57 L584.96,382.97 L585.33,382.37 L585.69,381.79 L586.05,381.21 L586.42,380.64 L586.78,380.07 L587.15,379.51 L587.51,378.95 L587.87,378.41 L588.24,377.86 L588.6,377.33 L588.96,376.79 L589.33,376.27 L589.69,375.75 L590.05,375.23 L590.42,374.73 L590.78,374.22 L591.15,373.72 L591.51,373.23 L591.87,372.74 L592.24,372.26 L592.6,371.78 L592.96,371.3 L593.33,370.83 L593.69,370.37 L594.05,369.91 L594.42,369.45 L594.78,369 L595.15,368.56 L595.51,368.11 L595.87,367.67 L596.24,367.24 L596.6,366.81 L596.96,366.39 L597.33,365.96 L597.69,365.55 L598.05,365.13 L598.42,364.72 L598.78,364.32 L599.15,363.91 L599.51,363.52 L599.87,363.12 L600.24,362.73 L600.6,362.34 L600.96,361.96 L601.33,361.58 L601.69,361.2 L602.05,360.82 L602.42,360.45 L602.78,360.09 L603.15,359.72 L603.51,359.36 L603.87,359 L604.24,358.65 L604.6,358.3 L604.96,357.95 L605.33,357.6 L605.69,357.26 L606.05,356.92 L606.42,356.58 L606.78,356.25 L607.15,355.92 L607.51,355.59 L607.87,355.26 L608.24,354.94 L608.6,354.62 L608.96,354.3 L609.33,353.99 L609.69,353.67 L610.05,353.36 L610.42,353.06 L610.78,352.75 L611.15,352.45 L611.51,352.15 L611.87,351.85 L612.24,351.55 L612.6,351.26 L612.96,350.97 L613.33,350.68 L613.69,350.39 L614.05,350.11 L614.42,349.83 L614.78,349.55 L615.15,349.27 L615.51,349 L615.87,348.72 L616.24,348.45 L616.6,348.18 L616.96,347.91 L617.33,347.65 L617.69,347.39 L618.05,347.12 L618.42,346.87 L618.78,346.61 L619.15,346.35 L619.51,346.1 L619.87,345.85 L620.24,345.6 L620.6,345.35 L620.96,345.1 L621.33,344.86 L621.69,344.61 L622.05,344.37 L622.42,344.13 L622.78,343.9 L623.15,343.66 L623.51,343.43 L623.87,343.19 L624.24,342.96 L624.6,342.73 L624.96,342.51 L625.33,342.28 L625.69,342.05 L626.05,341.83 L626.42,341.61 L626.78,341.39 L627.15,341.17 L627.51,340.95 L627.87,340.74 L628.24,340.52 L628.6,340.31 L628.96,340.1 L629.33,339.89 L629.69,339.68 L630.05,339.47 L630.42,339.27 L630.78,339.06 L631.15,338.86 L631.51,338.66 L631.87,338.46 L632.24,338.26 L632.6,338.06 L632.96,337.87 L633.33,337.67 L633.69,337.48 L634.05,337.28 L634.42,337.09 L634.78,336.9 L635.15,336.71 L635.51,336.53 L635.87,336.34 L636.24,336.15 L636.6,335.97 L636.96,335.79 L637.33,335.6 L637.69,335.42 L638.05,335.24 L638.42,335.06 L638.78,334.89 L639.15,334.71 L639.51,334.53 L639.87,334.36 L640.24,334.19 L640.6,334.01 L640.96,333.84 L641.33,333.67 L641.69,333.5 L642.05,333.34 L642.42,333.17 L642.78,333 L643.15,332.84 L643.51,332.67 L643.87,332.51 L644.24,332.35 L644.6,332.19 L644.96,332.03 L645.33,331.87 L645.69,331.71 L646.05,331.55 L646.42,331.39 L646.78,331.24 L647.15,331.08 L647.51,330.93 L647.87,330.77 L648.24,330.62 L648.6,330.47 L648.96,330.32 L649.33,330.17 L649.69,330.02 L650.05,329.87 L650.42,329.73 L650.78,329.58 L651.15,329.43 L651.51,329.29 L651.87,329.15 L652.24,329 L652.6,328.86 L652.96,328.72 L653.33,328.58 L653.69,328.44 L654.05,328.3 L654.42,328.16 L654.78,328.02 L655.15,327.89 L655.51,327.75 L655.87,327.61 L656.24,327.48 L656.6,327.34 L656.96,327.21 L657.33,327.08 L657.69,326.95 L658.05,326.82 L658.42,326.68 L658.78,326.55 L659.15,326.43 L659.51,326.3 L659.87,326.17 L660.24,326.04 L660.6,325.92 L660.96,325.79 L661.33,325.66 L661.69,325.54 L662.05,325.42 L662.42,325.29 L662.78,325.17 L663.15,325.05 L663.51,324.93 L663.87,324.81 L664.24,324.68 L664.6,324.57 L664.96,324.45 L665.33,324.33 L665.69,324.21 L666.05,324.09 L666.42,323.98 L666.78,323.86 L667.15,323.74 L667.51,323.63 L667.87,323.52 L668.24,323.4 L668.6,323.29 L668.96,323.18 L669.33,323.06 L669.69,322.95 L670.05,322.84 L670.42,322.73 L670.78,322.62 L671.15,322.51 L671.51,322.4 L671.87,322.29 L672.24,322.19 L672.6,322.08 L672.96,321.97 L673.33,321.86 L673.69,321.76 L674.05,321.65 L674.42,321.55 L674.78,321.44 L675.15,321.34 L675.51,321.24 L675.87,321.13 L676.24,321.03 L676.6,320.93 L676.96,320.83 L677.33,320.73 L677.69,320.63 L678.05,320.53 L678.42,320.43 L678.78,320.33 L679.15,320.23 L679.51,320.13 L679.87,320.03 L680.24,319.94 L680.6,319.84 L680.96,319.74 L681.33,319.65 L681.69,319.55 L682.05,319.46 L682.42,319.36 L682.78,319.27 L683.15,319.17 L683.51,319.08 L683.87,318.99 L684.24,318.89 L684.6,318.8 L684.96,318.71 L685.33,318.62 L685.69,318.53 L686.05,318.44 L686.42,318.35 L686.78,318.26 L687.15,318.17 L687.51,318.08 L687.87,317.99 L688.24,317.9 L688.6,317.81 L688.96,317.73 L689.33,317.64 L689.69,317.55 L690.05,317.47 L690.42,317.38 L690.78,317.29 L691.15,317.21 L691.51,317.12 L691.87,317.04 L692.24,316.96 L692.6,316.87 L692.96,316.79 L693.33,316.71 L693.69,316.62 L694.05,316.54 L694.42,316.46 L694.78,316.38 L695.15,316.29 L695.51,316.21 L695.87,316.13 L696.24,316.05 L696.6,315.97 L696.96,315.89 L697.33,315.81 L697.69,315.73 L698.05,315.66 L698.42,315.58 L698.78,315.5 L699.15,315.42 L699.51,315.34 L699.87,315.27 L700.24,315.19 L700.6,315.11 L700.96,315.04 L701.33,314.96 L701.69,314.89 L702.05,314.81 L702.42,314.73 L702.78,314.66 L703.15,314.59 L703.51,314.51 L703.87,314.44 L704.24,314.36 L704.6,314.29 L704.96,314.22 L705.33,314.15 L705.69,314.07 L706.05,314 L706.42,313.93 L706.78,313.86 L707.15,313.79 L707.51,313.71 L707.87,313.64 L708.24,313.57 L708.6,313.5 L708.96,313.43 L709.33,313.36 L709.69,313.29 L710.05,313.23 L710.42,313.16 L710.78,313.09 L711.15,313.02 L711.51,312.95 L711.87,312.88 L712.24,312.82 L712.6,312.75 L712.96,312.68 L713.33,312.62 L713.69,312.55 L714.05,312.48 L714.42,312.42 L714.78,312.35 L715.15,312.29 L715.51,312.22 L715.87,312.16 L716.24,312.09 L716.6,312.03 L716.96,311.96 L717.33,311.9 L717.69,311.83 L718.05,311.77 L718.42,311.71 L718.78,311.64 L719.15,311.58 L719.51,311.52 L719.87,311.46 L720.24,311.39 L720.6,311.33 L720.96,311.27 L721.33,311.21 L721.69,311.15 L722.05,311.09 L722.42,311.02 L722.78,310.96 L723.15,310.9 L723.51,310.84 L723.87,310.78 L724.24,310.72 L724.6,310.66 L724.96,310.6 L725.33,310.55 L725.69,310.49 L726.05,310.43 L726.42,310.37 L726.78,310.31 L727.15,310.25 L727.51,310.19 L727.87,310.14 L728.24,310.08 L728.6,310.02 L728.96,309.96 L729.33,309.91 L729.69,309.85 L730.05,309.79 L730.42,309.74 L730.78,309.68 L731.15,309.63 L731.51,309.57 L731.87,309.51 L732.24,309.46 L732.6,309.4 L732.96,309.35 L733.33,309.29 L733.69,309.24 L734.05,309.19 L734.42,309.13" fill="none" stroke="#c0504d" stroke-width="1.3" stroke-linejoin="round" />
<path d="M570.78,390.43 V403.2 M568.58,390.43 H572.98 M568.58,403.2 H572.98" stroke="#111" stroke-width="0.9" fill="none"/>
<circle cx="570.78" cy="396.82" r="2" fill="#111"/>
<path d="M588.96,362.6 V379.02 M586.76,362.6 H591.16 M586.76,379.02 H591.16" stroke="#111" stroke-width="0.9" fill="none"/>
<circle cx="588.96" cy="370.81" r="2" fill="#111"/>
<path d="M607.15,352.1 V360.31 M604.95,352.1 H609.35 M604.95,360.31 H609.35" stroke="#111" stroke-width="0.9" fill="none"/>
<circle cx="607.15" cy="356.21" r="2" fill="#111"/>
<path d="M625.33,334.76 V353.01 M623.13,334.76 H627.53 M623.13,353.01 H627.53" stroke="#111" stroke-width="0.9" fill="none"/>
<circle cx="625.33" cy="343.89" r="2" fill="#111"/>
<circle cx="643.51" cy="333.21" r="2" fill="#111"/>
<path d="M661.69,316.42 V330.11 M659.49,316.42 H663.89 M659.49,330.11 H663.89" stroke="#111" stroke-width="0.9" fill="none"/>
<circle cx="661.69" cy="323.26" r="2" fill="#111"/>
<path d="M679.87,303.73 V325.64 M677.67,303.73 H682.07 M677.67,325.64 H682.07" stroke="#111" stroke-width="0.9" fill="none"/>
<circle cx="679.87" cy="314.69" r="2" fill="#111"/>
<path d="M698.05,300.54 V316.05 M695.85,300.54 H700.25 M695.85,316.05 H700.25" stroke="#111" stroke-width="0.9" fill="none"/>
<circle cx="698.05" cy="308.3" r="2" fill="#111"/>
<path d="M716.24,301 V312.86 M714.04,301 H718.44 M714.04,312.86 H718.44" stroke="#111" stroke-width="0.9" fill="none"/>
<circle cx="716.24" cy="306.93" r="2" fill="#111"/>
<path d="M734.42,296.71 V305.83 M732.22,296.71 H736.62 M732.22,305.83 H736.62" stroke="#111" stroke-width="0.9" fill="none"/>
<circle cx="734.42" cy="301.27" r="2" fill="#111"/>
<rect x="552.6" y="261.3" width="200" height="159.7" fill="none" stroke="#2b2b2b" stroke-width="1.3"/>
<line x1="552.6" y1="421" x2="552.6" y2="424.5" stroke="#2b2b2b" stroke-width="1.2"/>
<text x="552.6" y="432.7" font-family="'Liberation Sans', sans-serif" font-size="9.2" font-weight="bold" text-anchor="middle" fill="#1a1a1a" >0</text>
<line x1="588.96" y1="421" x2="588.96" y2="424.5" stroke="#2b2b2b" stroke-width="1.2"/>
<text x="588.96" y="432.7" font-family="'Liberation Sans', sans-serif" font-size="9.2" font-weight="bold" text-anchor="middle" fill="#1a1a1a" >200</text>
<line x1="625.33" y1="421" x2="625.33" y2="424.5" stroke="#2b2b2b" stroke-width="1.2"/>
<text x="625.33" y="432.7" font-family="'Liberation Sans', sans-serif" font-size="9.2" font-weight="bold" text-anchor="middle" fill="#1a1a1a" >400</text>
<line x1="661.69" y1="421" x2="661.69" y2="424.5" stroke="#2b2b2b" stroke-width="1.2"/>
<text x="661.69" y="432.7" font-family="'Liberation Sans', sans-serif" font-size="9.2" font-weight="bold" text-anchor="middle" fill="#1a1a1a" >600</text>
<line x1="698.05" y1="421" x2="698.05" y2="424.5" stroke="#2b2b2b" stroke-width="1.2"/>
<text x="698.05" y="432.7" font-family="'Liberation Sans', sans-serif" font-size="9.2" font-weight="bold" text-anchor="middle" fill="#1a1a1a" >800</text>
<line x1="734.42" y1="421" x2="734.42" y2="424.5" stroke="#2b2b2b" stroke-width="1.2"/>
<text x="734.42" y="432.7" font-family="'Liberation Sans', sans-serif" font-size="9.2" font-weight="bold" text-anchor="middle" fill="#1a1a1a" >1000</text>
<line x1="549.1" y1="398.19" x2="552.6" y2="398.19" stroke="#2b2b2b" stroke-width="1.2"/>
<text x="548.2" y="401.5" font-family="'Liberation Sans', sans-serif" font-size="9.2" font-weight="bold" text-anchor="end" fill="#1a1a1a" >0.02</text>
<line x1="549.1" y1="352.56" x2="552.6" y2="352.56" stroke="#2b2b2b" stroke-width="1.2"/>
<text x="548.2" y="355.87" font-family="'Liberation Sans', sans-serif" font-size="9.2" font-weight="bold" text-anchor="end" fill="#1a1a1a" >0.03</text>
<line x1="549.1" y1="306.93" x2="552.6" y2="306.93" stroke="#2b2b2b" stroke-width="1.2"/>
<text x="548.2" y="310.24" font-family="'Liberation Sans', sans-serif" font-size="9.2" font-weight="bold" text-anchor="end" fill="#1a1a1a" >0.04</text>
<line x1="549.1" y1="261.3" x2="552.6" y2="261.3" stroke="#2b2b2b" stroke-width="1.2"/>
<text x="548.2" y="264.61" font-family="'Liberation Sans', sans-serif" font-size="9.2" font-weight="bold" text-anchor="end" fill="#1a1a1a" >0.05</text>
<text x="651.4" y="443.6" font-family="'Liberation Sans', sans-serif" font-size="11.4" font-weight="bold" text-anchor="middle" fill="#1a1a1a" textLength="128" lengthAdjust="spacingAndGlyphs" >TMB concentration (μM)</text>
<text transform="translate(523.5,340.5) rotate(-90)" font-family="'Liberation Sans', sans-serif" font-size="11.4" font-weight="bold" text-anchor="middle" fill="#1a1a1a" textLength="91" lengthAdjust="spacingAndGlyphs">Velocity (μM S<tspan font-size="7" dy="-4">-1</tspan><tspan dy="4">)</tspan></text>
<text x="3.4" y="473.8" font-family="'Liberation Serif', serif" font-size="11.8" fill="#1d1a1a" stroke="#1d1a1a" stroke-width="0.35" textLength="761.6" lengthAdjust="spacingAndGlyphs"><tspan font-weight="bold">Fig. 2.</tspan><tspan dx="3"> (a)</tspan> UV–vis absorption spectra of MnO<tspan font-size="8" dy="2">2</tspan><tspan dy="-2"> NSs, MnO</tspan><tspan font-size="8" dy="2">2</tspan><tspan dy="-2">-TMB and TMB. (b) oxidase-like activity at different MnO</tspan><tspan font-size="8" dy="2">2</tspan><tspan dy="-2"> NSs concentrations. (c) The linear relationship</tspan></text>
<text x="3.4" y="488.2" font-family="'Liberation Serif', serif" font-size="11.8" fill="#1d1a1a" stroke="#1d1a1a" stroke-width="0.35" textLength="760.1" lengthAdjust="spacingAndGlyphs">between ox TMB and MnO<tspan font-size="8" dy="2">2</tspan><tspan dy="-2"> NSs. (d) Color absorbance of TMB catalyzed by MnO</tspan><tspan font-size="8" dy="2">2</tspan><tspan dy="-2"> NSs at different pH. (e) The color absorbance of TMB catalyzed by MnO</tspan><tspan font-size="8" dy="2">2</tspan><tspan dy="-2"> NSs at</tspan></text>
<text x="3.4" y="502" font-family="'Liberation Serif', serif" font-size="11.8" fill="#1d1a1a" stroke="#1d1a1a" stroke-width="0.35" textLength="427" lengthAdjust="spacingAndGlyphs">different temperatures. (f) The catalytic rate of MnO<tspan font-size="8" dy="2">2</tspan><tspan dy="-2"> NSs at different TMB concentrations.</tspan></text>
</svg></body></html>
